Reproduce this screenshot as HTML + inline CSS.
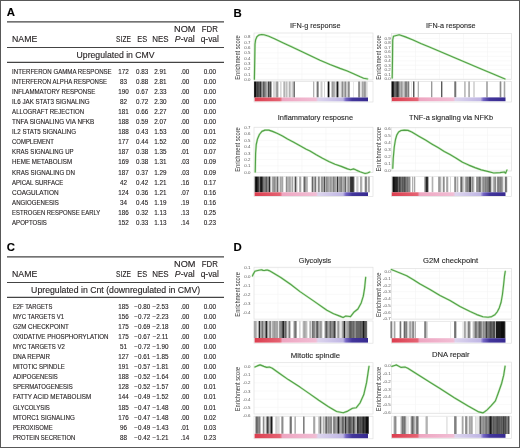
<!DOCTYPE html>
<html><head><meta charset="utf-8"><style>
html,body{margin:0;padding:0;background:#fff;}
body{width:520px;height:448px;overflow:hidden;}
svg{display:block;font-family:"Liberation Sans", sans-serif;filter:blur(0.3px);}
.s{stroke:currentColor;stroke-width:0.12px;}
</style></head><body>
<svg width="520" height="448" viewBox="0 0 520 448">
<rect x="0" y="0" width="520" height="448" fill="#fff"/>
<text class="s" x="6.7" y="16.2" font-size="11.4" text-anchor="start" font-weight="bold" fill="#000" color="#000">A</text>
<line x1="7" x2="224" y1="21.9" y2="21.9" stroke="#444444" stroke-width="1.15"/>
<line x1="7" x2="224" y1="47.5" y2="47.5" stroke="#444444" stroke-width="1.15"/>
<line x1="7" x2="224" y1="62.4" y2="62.4" stroke="#444444" stroke-width="1.15"/>
<text class="s" x="12" y="42.15" font-size="8.4" text-anchor="start" font-weight="normal" fill="#231f20" color="#231f20" textLength="25.3" lengthAdjust="spacingAndGlyphs">NAME</text>
<text class="s" x="123.5" y="42.15" font-size="8.4" text-anchor="middle" font-weight="normal" fill="#231f20" color="#231f20" textLength="14.8" lengthAdjust="spacingAndGlyphs">SIZE</text>
<text class="s" x="142.2" y="42.15" font-size="8.4" text-anchor="middle" font-weight="normal" fill="#231f20" color="#231f20" textLength="9.9" lengthAdjust="spacingAndGlyphs">ES</text>
<text class="s" x="160.5" y="42.15" font-size="8.4" text-anchor="middle" font-weight="normal" fill="#231f20" color="#231f20" textLength="16.4" lengthAdjust="spacingAndGlyphs">NES</text>
<text class="s" x="184.8" y="32.1" font-size="8.4" text-anchor="middle" font-weight="normal" fill="#231f20" color="#231f20" textLength="21.4" lengthAdjust="spacingAndGlyphs">NOM</text>
<text class="s" x="184.8" y="42.15" font-size="8.4" text-anchor="middle" font-weight="normal" fill="#231f20" color="#231f20" textLength="19.9" lengthAdjust="spacingAndGlyphs"><tspan font-style="italic">P</tspan>-val</text>
<text class="s" x="209.8" y="32.1" font-size="8.4" text-anchor="middle" font-weight="normal" fill="#231f20" color="#231f20" textLength="16" lengthAdjust="spacingAndGlyphs">FDR</text>
<text class="s" x="209.8" y="42.15" font-size="8.4" text-anchor="middle" font-weight="normal" fill="#231f20" color="#231f20" textLength="18.3" lengthAdjust="spacingAndGlyphs">q-val</text>
<text class="s" x="115.6" y="57.9" font-size="8.3" text-anchor="middle" font-weight="normal" fill="#231f20" color="#231f20" textLength="78" lengthAdjust="spacingAndGlyphs">Upregulated in CMV</text>
<text class="s" x="12.1" y="73.9" font-size="6.5" text-anchor="start" font-weight="normal" fill="#231f20" color="#231f20" textLength="99.6" lengthAdjust="spacingAndGlyphs">INTERFERON GAMMA RESPONSE</text>
<text class="s" x="123.5" y="73.9" font-size="6.5" text-anchor="middle" font-weight="normal" fill="#231f20" color="#231f20" textLength="10.51" lengthAdjust="spacingAndGlyphs">172</text>
<text class="s" x="142.2" y="73.9" font-size="6.5" text-anchor="middle" font-weight="normal" fill="#231f20" color="#231f20" textLength="12.26" lengthAdjust="spacingAndGlyphs">0.83</text>
<text class="s" x="160.5" y="73.9" font-size="6.5" text-anchor="middle" font-weight="normal" fill="#231f20" color="#231f20" textLength="12.26" lengthAdjust="spacingAndGlyphs">2.91</text>
<text class="s" x="184.8" y="73.9" font-size="6.5" text-anchor="middle" font-weight="normal" fill="#231f20" color="#231f20" textLength="8.76" lengthAdjust="spacingAndGlyphs">.00</text>
<text class="s" x="209.8" y="73.9" font-size="6.5" text-anchor="middle" font-weight="normal" fill="#231f20" color="#231f20" textLength="12.26" lengthAdjust="spacingAndGlyphs">0.00</text>
<text class="s" x="12.1" y="83.96" font-size="6.5" text-anchor="start" font-weight="normal" fill="#231f20" color="#231f20" textLength="94.9" lengthAdjust="spacingAndGlyphs">INTERFERON ALPHA RESPONSE</text>
<text class="s" x="123.5" y="83.96" font-size="6.5" text-anchor="middle" font-weight="normal" fill="#231f20" color="#231f20" textLength="7.01" lengthAdjust="spacingAndGlyphs">83</text>
<text class="s" x="142.2" y="83.96" font-size="6.5" text-anchor="middle" font-weight="normal" fill="#231f20" color="#231f20" textLength="12.26" lengthAdjust="spacingAndGlyphs">0.88</text>
<text class="s" x="160.5" y="83.96" font-size="6.5" text-anchor="middle" font-weight="normal" fill="#231f20" color="#231f20" textLength="12.26" lengthAdjust="spacingAndGlyphs">2.81</text>
<text class="s" x="184.8" y="83.96" font-size="6.5" text-anchor="middle" font-weight="normal" fill="#231f20" color="#231f20" textLength="8.76" lengthAdjust="spacingAndGlyphs">.00</text>
<text class="s" x="209.8" y="83.96" font-size="6.5" text-anchor="middle" font-weight="normal" fill="#231f20" color="#231f20" textLength="12.26" lengthAdjust="spacingAndGlyphs">0.00</text>
<text class="s" x="12.1" y="94.02" font-size="6.5" text-anchor="start" font-weight="normal" fill="#231f20" color="#231f20" textLength="83.3" lengthAdjust="spacingAndGlyphs">INFLAMMATORY RESPONSE</text>
<text class="s" x="123.5" y="94.02" font-size="6.5" text-anchor="middle" font-weight="normal" fill="#231f20" color="#231f20" textLength="10.51" lengthAdjust="spacingAndGlyphs">190</text>
<text class="s" x="142.2" y="94.02" font-size="6.5" text-anchor="middle" font-weight="normal" fill="#231f20" color="#231f20" textLength="12.26" lengthAdjust="spacingAndGlyphs">0.67</text>
<text class="s" x="160.5" y="94.02" font-size="6.5" text-anchor="middle" font-weight="normal" fill="#231f20" color="#231f20" textLength="12.26" lengthAdjust="spacingAndGlyphs">2.33</text>
<text class="s" x="184.8" y="94.02" font-size="6.5" text-anchor="middle" font-weight="normal" fill="#231f20" color="#231f20" textLength="8.76" lengthAdjust="spacingAndGlyphs">.00</text>
<text class="s" x="209.8" y="94.02" font-size="6.5" text-anchor="middle" font-weight="normal" fill="#231f20" color="#231f20" textLength="12.26" lengthAdjust="spacingAndGlyphs">0.00</text>
<text class="s" x="12.1" y="104.08" font-size="6.5" text-anchor="start" font-weight="normal" fill="#231f20" color="#231f20" textLength="77.5" lengthAdjust="spacingAndGlyphs">IL6 JAK STAT3 SIGNALING</text>
<text class="s" x="123.5" y="104.08" font-size="6.5" text-anchor="middle" font-weight="normal" fill="#231f20" color="#231f20" textLength="7.01" lengthAdjust="spacingAndGlyphs">82</text>
<text class="s" x="142.2" y="104.08" font-size="6.5" text-anchor="middle" font-weight="normal" fill="#231f20" color="#231f20" textLength="12.26" lengthAdjust="spacingAndGlyphs">0.72</text>
<text class="s" x="160.5" y="104.08" font-size="6.5" text-anchor="middle" font-weight="normal" fill="#231f20" color="#231f20" textLength="12.26" lengthAdjust="spacingAndGlyphs">2.30</text>
<text class="s" x="184.8" y="104.08" font-size="6.5" text-anchor="middle" font-weight="normal" fill="#231f20" color="#231f20" textLength="8.76" lengthAdjust="spacingAndGlyphs">.00</text>
<text class="s" x="209.8" y="104.08" font-size="6.5" text-anchor="middle" font-weight="normal" fill="#231f20" color="#231f20" textLength="12.26" lengthAdjust="spacingAndGlyphs">0.00</text>
<text class="s" x="12.1" y="114.14" font-size="6.5" text-anchor="start" font-weight="normal" fill="#231f20" color="#231f20" textLength="72.0" lengthAdjust="spacingAndGlyphs">ALLOGRAFT REJECTION</text>
<text class="s" x="123.5" y="114.14" font-size="6.5" text-anchor="middle" font-weight="normal" fill="#231f20" color="#231f20" textLength="10.51" lengthAdjust="spacingAndGlyphs">181</text>
<text class="s" x="142.2" y="114.14" font-size="6.5" text-anchor="middle" font-weight="normal" fill="#231f20" color="#231f20" textLength="12.26" lengthAdjust="spacingAndGlyphs">0.66</text>
<text class="s" x="160.5" y="114.14" font-size="6.5" text-anchor="middle" font-weight="normal" fill="#231f20" color="#231f20" textLength="12.26" lengthAdjust="spacingAndGlyphs">2.27</text>
<text class="s" x="184.8" y="114.14" font-size="6.5" text-anchor="middle" font-weight="normal" fill="#231f20" color="#231f20" textLength="8.76" lengthAdjust="spacingAndGlyphs">.00</text>
<text class="s" x="209.8" y="114.14" font-size="6.5" text-anchor="middle" font-weight="normal" fill="#231f20" color="#231f20" textLength="12.26" lengthAdjust="spacingAndGlyphs">0.00</text>
<text class="s" x="12.1" y="124.2" font-size="6.5" text-anchor="start" font-weight="normal" fill="#231f20" color="#231f20" textLength="82.2" lengthAdjust="spacingAndGlyphs">TNFA SIGNALING VIA NFKB</text>
<text class="s" x="123.5" y="124.2" font-size="6.5" text-anchor="middle" font-weight="normal" fill="#231f20" color="#231f20" textLength="10.51" lengthAdjust="spacingAndGlyphs">188</text>
<text class="s" x="142.2" y="124.2" font-size="6.5" text-anchor="middle" font-weight="normal" fill="#231f20" color="#231f20" textLength="12.26" lengthAdjust="spacingAndGlyphs">0.59</text>
<text class="s" x="160.5" y="124.2" font-size="6.5" text-anchor="middle" font-weight="normal" fill="#231f20" color="#231f20" textLength="12.26" lengthAdjust="spacingAndGlyphs">2.07</text>
<text class="s" x="184.8" y="124.2" font-size="6.5" text-anchor="middle" font-weight="normal" fill="#231f20" color="#231f20" textLength="8.76" lengthAdjust="spacingAndGlyphs">.00</text>
<text class="s" x="209.8" y="124.2" font-size="6.5" text-anchor="middle" font-weight="normal" fill="#231f20" color="#231f20" textLength="12.26" lengthAdjust="spacingAndGlyphs">0.00</text>
<text class="s" x="12.1" y="134.26" font-size="6.5" text-anchor="start" font-weight="normal" fill="#231f20" color="#231f20" textLength="64.0" lengthAdjust="spacingAndGlyphs">IL2 STAT5 SIGNALING</text>
<text class="s" x="123.5" y="134.26" font-size="6.5" text-anchor="middle" font-weight="normal" fill="#231f20" color="#231f20" textLength="10.51" lengthAdjust="spacingAndGlyphs">188</text>
<text class="s" x="142.2" y="134.26" font-size="6.5" text-anchor="middle" font-weight="normal" fill="#231f20" color="#231f20" textLength="12.26" lengthAdjust="spacingAndGlyphs">0.43</text>
<text class="s" x="160.5" y="134.26" font-size="6.5" text-anchor="middle" font-weight="normal" fill="#231f20" color="#231f20" textLength="12.26" lengthAdjust="spacingAndGlyphs">1.53</text>
<text class="s" x="184.8" y="134.26" font-size="6.5" text-anchor="middle" font-weight="normal" fill="#231f20" color="#231f20" textLength="8.76" lengthAdjust="spacingAndGlyphs">.00</text>
<text class="s" x="209.8" y="134.26" font-size="6.5" text-anchor="middle" font-weight="normal" fill="#231f20" color="#231f20" textLength="12.26" lengthAdjust="spacingAndGlyphs">0.01</text>
<text class="s" x="12.1" y="144.32" font-size="6.5" text-anchor="start" font-weight="normal" fill="#231f20" color="#231f20" textLength="41.8" lengthAdjust="spacingAndGlyphs">COMPLEMENT</text>
<text class="s" x="123.5" y="144.32" font-size="6.5" text-anchor="middle" font-weight="normal" fill="#231f20" color="#231f20" textLength="10.51" lengthAdjust="spacingAndGlyphs">177</text>
<text class="s" x="142.2" y="144.32" font-size="6.5" text-anchor="middle" font-weight="normal" fill="#231f20" color="#231f20" textLength="12.26" lengthAdjust="spacingAndGlyphs">0.44</text>
<text class="s" x="160.5" y="144.32" font-size="6.5" text-anchor="middle" font-weight="normal" fill="#231f20" color="#231f20" textLength="12.26" lengthAdjust="spacingAndGlyphs">1.52</text>
<text class="s" x="184.8" y="144.32" font-size="6.5" text-anchor="middle" font-weight="normal" fill="#231f20" color="#231f20" textLength="8.76" lengthAdjust="spacingAndGlyphs">.00</text>
<text class="s" x="209.8" y="144.32" font-size="6.5" text-anchor="middle" font-weight="normal" fill="#231f20" color="#231f20" textLength="12.26" lengthAdjust="spacingAndGlyphs">0.02</text>
<text class="s" x="12.1" y="154.38" font-size="6.5" text-anchor="start" font-weight="normal" fill="#231f20" color="#231f20" textLength="61.5" lengthAdjust="spacingAndGlyphs">KRAS SIGNALING UP</text>
<text class="s" x="123.5" y="154.38" font-size="6.5" text-anchor="middle" font-weight="normal" fill="#231f20" color="#231f20" textLength="10.51" lengthAdjust="spacingAndGlyphs">187</text>
<text class="s" x="142.2" y="154.38" font-size="6.5" text-anchor="middle" font-weight="normal" fill="#231f20" color="#231f20" textLength="12.26" lengthAdjust="spacingAndGlyphs">0.38</text>
<text class="s" x="160.5" y="154.38" font-size="6.5" text-anchor="middle" font-weight="normal" fill="#231f20" color="#231f20" textLength="12.26" lengthAdjust="spacingAndGlyphs">1.35</text>
<text class="s" x="184.8" y="154.38" font-size="6.5" text-anchor="middle" font-weight="normal" fill="#231f20" color="#231f20" textLength="8.76" lengthAdjust="spacingAndGlyphs">.01</text>
<text class="s" x="209.8" y="154.38" font-size="6.5" text-anchor="middle" font-weight="normal" fill="#231f20" color="#231f20" textLength="12.26" lengthAdjust="spacingAndGlyphs">0.07</text>
<text class="s" x="12.1" y="164.44" font-size="6.5" text-anchor="start" font-weight="normal" fill="#231f20" color="#231f20" textLength="60.0" lengthAdjust="spacingAndGlyphs">HEME METABOLISM</text>
<text class="s" x="123.5" y="164.44" font-size="6.5" text-anchor="middle" font-weight="normal" fill="#231f20" color="#231f20" textLength="10.51" lengthAdjust="spacingAndGlyphs">169</text>
<text class="s" x="142.2" y="164.44" font-size="6.5" text-anchor="middle" font-weight="normal" fill="#231f20" color="#231f20" textLength="12.26" lengthAdjust="spacingAndGlyphs">0.38</text>
<text class="s" x="160.5" y="164.44" font-size="6.5" text-anchor="middle" font-weight="normal" fill="#231f20" color="#231f20" textLength="12.26" lengthAdjust="spacingAndGlyphs">1.31</text>
<text class="s" x="184.8" y="164.44" font-size="6.5" text-anchor="middle" font-weight="normal" fill="#231f20" color="#231f20" textLength="8.76" lengthAdjust="spacingAndGlyphs">.03</text>
<text class="s" x="209.8" y="164.44" font-size="6.5" text-anchor="middle" font-weight="normal" fill="#231f20" color="#231f20" textLength="12.26" lengthAdjust="spacingAndGlyphs">0.09</text>
<text class="s" x="12.1" y="174.5" font-size="6.5" text-anchor="start" font-weight="normal" fill="#231f20" color="#231f20" textLength="62.8" lengthAdjust="spacingAndGlyphs">KRAS SIGNALING DN</text>
<text class="s" x="123.5" y="174.5" font-size="6.5" text-anchor="middle" font-weight="normal" fill="#231f20" color="#231f20" textLength="10.51" lengthAdjust="spacingAndGlyphs">187</text>
<text class="s" x="142.2" y="174.5" font-size="6.5" text-anchor="middle" font-weight="normal" fill="#231f20" color="#231f20" textLength="12.26" lengthAdjust="spacingAndGlyphs">0.37</text>
<text class="s" x="160.5" y="174.5" font-size="6.5" text-anchor="middle" font-weight="normal" fill="#231f20" color="#231f20" textLength="12.26" lengthAdjust="spacingAndGlyphs">1.29</text>
<text class="s" x="184.8" y="174.5" font-size="6.5" text-anchor="middle" font-weight="normal" fill="#231f20" color="#231f20" textLength="8.76" lengthAdjust="spacingAndGlyphs">.03</text>
<text class="s" x="209.8" y="174.5" font-size="6.5" text-anchor="middle" font-weight="normal" fill="#231f20" color="#231f20" textLength="12.26" lengthAdjust="spacingAndGlyphs">0.09</text>
<text class="s" x="12.1" y="184.56" font-size="6.5" text-anchor="start" font-weight="normal" fill="#231f20" color="#231f20" textLength="51.2" lengthAdjust="spacingAndGlyphs">APICAL SURFACE</text>
<text class="s" x="123.5" y="184.56" font-size="6.5" text-anchor="middle" font-weight="normal" fill="#231f20" color="#231f20" textLength="7.01" lengthAdjust="spacingAndGlyphs">42</text>
<text class="s" x="142.2" y="184.56" font-size="6.5" text-anchor="middle" font-weight="normal" fill="#231f20" color="#231f20" textLength="12.26" lengthAdjust="spacingAndGlyphs">0.42</text>
<text class="s" x="160.5" y="184.56" font-size="6.5" text-anchor="middle" font-weight="normal" fill="#231f20" color="#231f20" textLength="12.26" lengthAdjust="spacingAndGlyphs">1.21</text>
<text class="s" x="184.8" y="184.56" font-size="6.5" text-anchor="middle" font-weight="normal" fill="#231f20" color="#231f20" textLength="8.76" lengthAdjust="spacingAndGlyphs">.16</text>
<text class="s" x="209.8" y="184.56" font-size="6.5" text-anchor="middle" font-weight="normal" fill="#231f20" color="#231f20" textLength="12.26" lengthAdjust="spacingAndGlyphs">0.17</text>
<text class="s" x="12.1" y="194.62" font-size="6.5" text-anchor="start" font-weight="normal" fill="#231f20" color="#231f20" textLength="46.5" lengthAdjust="spacingAndGlyphs">COAGULATION</text>
<text class="s" x="123.5" y="194.62" font-size="6.5" text-anchor="middle" font-weight="normal" fill="#231f20" color="#231f20" textLength="10.51" lengthAdjust="spacingAndGlyphs">124</text>
<text class="s" x="142.2" y="194.62" font-size="6.5" text-anchor="middle" font-weight="normal" fill="#231f20" color="#231f20" textLength="12.26" lengthAdjust="spacingAndGlyphs">0.36</text>
<text class="s" x="160.5" y="194.62" font-size="6.5" text-anchor="middle" font-weight="normal" fill="#231f20" color="#231f20" textLength="12.26" lengthAdjust="spacingAndGlyphs">1.21</text>
<text class="s" x="184.8" y="194.62" font-size="6.5" text-anchor="middle" font-weight="normal" fill="#231f20" color="#231f20" textLength="8.76" lengthAdjust="spacingAndGlyphs">.07</text>
<text class="s" x="209.8" y="194.62" font-size="6.5" text-anchor="middle" font-weight="normal" fill="#231f20" color="#231f20" textLength="12.26" lengthAdjust="spacingAndGlyphs">0.16</text>
<text class="s" x="12.1" y="204.68" font-size="6.5" text-anchor="start" font-weight="normal" fill="#231f20" color="#231f20" textLength="46.8" lengthAdjust="spacingAndGlyphs">ANGIOGENESIS</text>
<text class="s" x="123.5" y="204.68" font-size="6.5" text-anchor="middle" font-weight="normal" fill="#231f20" color="#231f20" textLength="7.01" lengthAdjust="spacingAndGlyphs">34</text>
<text class="s" x="142.2" y="204.68" font-size="6.5" text-anchor="middle" font-weight="normal" fill="#231f20" color="#231f20" textLength="12.26" lengthAdjust="spacingAndGlyphs">0.45</text>
<text class="s" x="160.5" y="204.68" font-size="6.5" text-anchor="middle" font-weight="normal" fill="#231f20" color="#231f20" textLength="12.26" lengthAdjust="spacingAndGlyphs">1.19</text>
<text class="s" x="184.8" y="204.68" font-size="6.5" text-anchor="middle" font-weight="normal" fill="#231f20" color="#231f20" textLength="8.76" lengthAdjust="spacingAndGlyphs">.19</text>
<text class="s" x="209.8" y="204.68" font-size="6.5" text-anchor="middle" font-weight="normal" fill="#231f20" color="#231f20" textLength="12.26" lengthAdjust="spacingAndGlyphs">0.16</text>
<text class="s" x="12.1" y="214.74" font-size="6.5" text-anchor="start" font-weight="normal" fill="#231f20" color="#231f20" textLength="88.1" lengthAdjust="spacingAndGlyphs">ESTROGEN RESPONSE EARLY</text>
<text class="s" x="123.5" y="214.74" font-size="6.5" text-anchor="middle" font-weight="normal" fill="#231f20" color="#231f20" textLength="10.51" lengthAdjust="spacingAndGlyphs">186</text>
<text class="s" x="142.2" y="214.74" font-size="6.5" text-anchor="middle" font-weight="normal" fill="#231f20" color="#231f20" textLength="12.26" lengthAdjust="spacingAndGlyphs">0.32</text>
<text class="s" x="160.5" y="214.74" font-size="6.5" text-anchor="middle" font-weight="normal" fill="#231f20" color="#231f20" textLength="12.26" lengthAdjust="spacingAndGlyphs">1.13</text>
<text class="s" x="184.8" y="214.74" font-size="6.5" text-anchor="middle" font-weight="normal" fill="#231f20" color="#231f20" textLength="8.76" lengthAdjust="spacingAndGlyphs">.13</text>
<text class="s" x="209.8" y="214.74" font-size="6.5" text-anchor="middle" font-weight="normal" fill="#231f20" color="#231f20" textLength="12.26" lengthAdjust="spacingAndGlyphs">0.25</text>
<text class="s" x="12.1" y="224.8" font-size="6.5" text-anchor="start" font-weight="normal" fill="#231f20" color="#231f20" textLength="34.8" lengthAdjust="spacingAndGlyphs">APOPTOSIS</text>
<text class="s" x="123.5" y="224.8" font-size="6.5" text-anchor="middle" font-weight="normal" fill="#231f20" color="#231f20" textLength="10.51" lengthAdjust="spacingAndGlyphs">152</text>
<text class="s" x="142.2" y="224.8" font-size="6.5" text-anchor="middle" font-weight="normal" fill="#231f20" color="#231f20" textLength="12.26" lengthAdjust="spacingAndGlyphs">0.33</text>
<text class="s" x="160.5" y="224.8" font-size="6.5" text-anchor="middle" font-weight="normal" fill="#231f20" color="#231f20" textLength="12.26" lengthAdjust="spacingAndGlyphs">1.13</text>
<text class="s" x="184.8" y="224.8" font-size="6.5" text-anchor="middle" font-weight="normal" fill="#231f20" color="#231f20" textLength="8.76" lengthAdjust="spacingAndGlyphs">.14</text>
<text class="s" x="209.8" y="224.8" font-size="6.5" text-anchor="middle" font-weight="normal" fill="#231f20" color="#231f20" textLength="12.26" lengthAdjust="spacingAndGlyphs">0.23</text>
<text class="s" x="6.7" y="250.7" font-size="11.4" text-anchor="start" font-weight="bold" fill="#000" color="#000">C</text>
<line x1="7" x2="224" y1="256.9" y2="256.9" stroke="#444444" stroke-width="1.15"/>
<line x1="7" x2="224" y1="282.5" y2="282.5" stroke="#444444" stroke-width="1.15"/>
<line x1="7" x2="224" y1="297.4" y2="297.4" stroke="#444444" stroke-width="1.15"/>
<text class="s" x="12" y="277.15" font-size="8.4" text-anchor="start" font-weight="normal" fill="#231f20" color="#231f20" textLength="25.3" lengthAdjust="spacingAndGlyphs">NAME</text>
<text class="s" x="123.5" y="277.15" font-size="8.4" text-anchor="middle" font-weight="normal" fill="#231f20" color="#231f20" textLength="14.8" lengthAdjust="spacingAndGlyphs">SIZE</text>
<text class="s" x="142.2" y="277.15" font-size="8.4" text-anchor="middle" font-weight="normal" fill="#231f20" color="#231f20" textLength="9.9" lengthAdjust="spacingAndGlyphs">ES</text>
<text class="s" x="160.5" y="277.15" font-size="8.4" text-anchor="middle" font-weight="normal" fill="#231f20" color="#231f20" textLength="16.4" lengthAdjust="spacingAndGlyphs">NES</text>
<text class="s" x="184.8" y="267.1" font-size="8.4" text-anchor="middle" font-weight="normal" fill="#231f20" color="#231f20" textLength="21.4" lengthAdjust="spacingAndGlyphs">NOM</text>
<text class="s" x="184.8" y="277.15" font-size="8.4" text-anchor="middle" font-weight="normal" fill="#231f20" color="#231f20" textLength="19.9" lengthAdjust="spacingAndGlyphs"><tspan font-style="italic">P</tspan>-val</text>
<text class="s" x="209.8" y="267.1" font-size="8.4" text-anchor="middle" font-weight="normal" fill="#231f20" color="#231f20" textLength="16" lengthAdjust="spacingAndGlyphs">FDR</text>
<text class="s" x="209.8" y="277.15" font-size="8.4" text-anchor="middle" font-weight="normal" fill="#231f20" color="#231f20" textLength="18.3" lengthAdjust="spacingAndGlyphs">q-val</text>
<text class="s" x="115.6" y="292.9" font-size="8.3" text-anchor="middle" font-weight="normal" fill="#231f20" color="#231f20" textLength="169" lengthAdjust="spacingAndGlyphs">Upregulated in Cnt (downregulated in CMV)</text>
<text class="s" x="12.9" y="308.9" font-size="6.5" text-anchor="start" font-weight="normal" fill="#231f20" color="#231f20" textLength="39.4" lengthAdjust="spacingAndGlyphs">E2F TARGETS</text>
<text class="s" x="123.5" y="308.9" font-size="6.5" text-anchor="middle" font-weight="normal" fill="#231f20" color="#231f20" textLength="10.51" lengthAdjust="spacingAndGlyphs">185</text>
<text class="s" x="142.2" y="308.9" font-size="6.5" text-anchor="middle" font-weight="normal" fill="#231f20" color="#231f20" textLength="15.94" lengthAdjust="spacingAndGlyphs">−0.80</text>
<text class="s" x="160.5" y="308.9" font-size="6.5" text-anchor="middle" font-weight="normal" fill="#231f20" color="#231f20" textLength="15.94" lengthAdjust="spacingAndGlyphs">−2.53</text>
<text class="s" x="184.8" y="308.9" font-size="6.5" text-anchor="middle" font-weight="normal" fill="#231f20" color="#231f20" textLength="8.76" lengthAdjust="spacingAndGlyphs">.00</text>
<text class="s" x="209.8" y="308.9" font-size="6.5" text-anchor="middle" font-weight="normal" fill="#231f20" color="#231f20" textLength="12.26" lengthAdjust="spacingAndGlyphs">0.00</text>
<text class="s" x="12.9" y="318.96" font-size="6.5" text-anchor="start" font-weight="normal" fill="#231f20" color="#231f20" textLength="51.1" lengthAdjust="spacingAndGlyphs">MYC TARGETS V1</text>
<text class="s" x="123.5" y="318.96" font-size="6.5" text-anchor="middle" font-weight="normal" fill="#231f20" color="#231f20" textLength="10.51" lengthAdjust="spacingAndGlyphs">156</text>
<text class="s" x="142.2" y="318.96" font-size="6.5" text-anchor="middle" font-weight="normal" fill="#231f20" color="#231f20" textLength="15.94" lengthAdjust="spacingAndGlyphs">−0.72</text>
<text class="s" x="160.5" y="318.96" font-size="6.5" text-anchor="middle" font-weight="normal" fill="#231f20" color="#231f20" textLength="15.94" lengthAdjust="spacingAndGlyphs">−2.23</text>
<text class="s" x="184.8" y="318.96" font-size="6.5" text-anchor="middle" font-weight="normal" fill="#231f20" color="#231f20" textLength="8.76" lengthAdjust="spacingAndGlyphs">.00</text>
<text class="s" x="209.8" y="318.96" font-size="6.5" text-anchor="middle" font-weight="normal" fill="#231f20" color="#231f20" textLength="12.26" lengthAdjust="spacingAndGlyphs">0.00</text>
<text class="s" x="12.9" y="329.02" font-size="6.5" text-anchor="start" font-weight="normal" fill="#231f20" color="#231f20" textLength="55.8" lengthAdjust="spacingAndGlyphs">G2M CHECKPOINT</text>
<text class="s" x="123.5" y="329.02" font-size="6.5" text-anchor="middle" font-weight="normal" fill="#231f20" color="#231f20" textLength="10.51" lengthAdjust="spacingAndGlyphs">175</text>
<text class="s" x="142.2" y="329.02" font-size="6.5" text-anchor="middle" font-weight="normal" fill="#231f20" color="#231f20" textLength="15.94" lengthAdjust="spacingAndGlyphs">−0.69</text>
<text class="s" x="160.5" y="329.02" font-size="6.5" text-anchor="middle" font-weight="normal" fill="#231f20" color="#231f20" textLength="15.94" lengthAdjust="spacingAndGlyphs">−2.18</text>
<text class="s" x="184.8" y="329.02" font-size="6.5" text-anchor="middle" font-weight="normal" fill="#231f20" color="#231f20" textLength="8.76" lengthAdjust="spacingAndGlyphs">.00</text>
<text class="s" x="209.8" y="329.02" font-size="6.5" text-anchor="middle" font-weight="normal" fill="#231f20" color="#231f20" textLength="12.26" lengthAdjust="spacingAndGlyphs">0.00</text>
<text class="s" x="12.9" y="339.08" font-size="6.5" text-anchor="start" font-weight="normal" fill="#231f20" color="#231f20" textLength="95.65" lengthAdjust="spacingAndGlyphs">OXIDATIVE PHOSPHORYLATION</text>
<text class="s" x="123.5" y="339.08" font-size="6.5" text-anchor="middle" font-weight="normal" fill="#231f20" color="#231f20" textLength="10.51" lengthAdjust="spacingAndGlyphs">175</text>
<text class="s" x="142.2" y="339.08" font-size="6.5" text-anchor="middle" font-weight="normal" fill="#231f20" color="#231f20" textLength="15.94" lengthAdjust="spacingAndGlyphs">−0.67</text>
<text class="s" x="160.5" y="339.08" font-size="6.5" text-anchor="middle" font-weight="normal" fill="#231f20" color="#231f20" textLength="15.47" lengthAdjust="spacingAndGlyphs">−2.11</text>
<text class="s" x="184.8" y="339.08" font-size="6.5" text-anchor="middle" font-weight="normal" fill="#231f20" color="#231f20" textLength="8.76" lengthAdjust="spacingAndGlyphs">.00</text>
<text class="s" x="209.8" y="339.08" font-size="6.5" text-anchor="middle" font-weight="normal" fill="#231f20" color="#231f20" textLength="12.26" lengthAdjust="spacingAndGlyphs">0.00</text>
<text class="s" x="12.9" y="349.14" font-size="6.5" text-anchor="start" font-weight="normal" fill="#231f20" color="#231f20" textLength="51.9" lengthAdjust="spacingAndGlyphs">MYC TARGETS V2</text>
<text class="s" x="123.5" y="349.14" font-size="6.5" text-anchor="middle" font-weight="normal" fill="#231f20" color="#231f20" textLength="7.01" lengthAdjust="spacingAndGlyphs">51</text>
<text class="s" x="142.2" y="349.14" font-size="6.5" text-anchor="middle" font-weight="normal" fill="#231f20" color="#231f20" textLength="15.94" lengthAdjust="spacingAndGlyphs">−0.72</text>
<text class="s" x="160.5" y="349.14" font-size="6.5" text-anchor="middle" font-weight="normal" fill="#231f20" color="#231f20" textLength="15.94" lengthAdjust="spacingAndGlyphs">−1.90</text>
<text class="s" x="184.8" y="349.14" font-size="6.5" text-anchor="middle" font-weight="normal" fill="#231f20" color="#231f20" textLength="8.76" lengthAdjust="spacingAndGlyphs">.00</text>
<text class="s" x="209.8" y="349.14" font-size="6.5" text-anchor="middle" font-weight="normal" fill="#231f20" color="#231f20" textLength="12.26" lengthAdjust="spacingAndGlyphs">0.00</text>
<text class="s" x="12.9" y="359.2" font-size="6.5" text-anchor="start" font-weight="normal" fill="#231f20" color="#231f20" textLength="37.1" lengthAdjust="spacingAndGlyphs">DNA REPAIR</text>
<text class="s" x="123.5" y="359.2" font-size="6.5" text-anchor="middle" font-weight="normal" fill="#231f20" color="#231f20" textLength="10.51" lengthAdjust="spacingAndGlyphs">127</text>
<text class="s" x="142.2" y="359.2" font-size="6.5" text-anchor="middle" font-weight="normal" fill="#231f20" color="#231f20" textLength="15.94" lengthAdjust="spacingAndGlyphs">−0.61</text>
<text class="s" x="160.5" y="359.2" font-size="6.5" text-anchor="middle" font-weight="normal" fill="#231f20" color="#231f20" textLength="15.94" lengthAdjust="spacingAndGlyphs">−1.85</text>
<text class="s" x="184.8" y="359.2" font-size="6.5" text-anchor="middle" font-weight="normal" fill="#231f20" color="#231f20" textLength="8.76" lengthAdjust="spacingAndGlyphs">.00</text>
<text class="s" x="209.8" y="359.2" font-size="6.5" text-anchor="middle" font-weight="normal" fill="#231f20" color="#231f20" textLength="12.26" lengthAdjust="spacingAndGlyphs">0.00</text>
<text class="s" x="12.9" y="369.26" font-size="6.5" text-anchor="start" font-weight="normal" fill="#231f20" color="#231f20" textLength="51.9" lengthAdjust="spacingAndGlyphs">MITOTIC SPINDLE</text>
<text class="s" x="123.5" y="369.26" font-size="6.5" text-anchor="middle" font-weight="normal" fill="#231f20" color="#231f20" textLength="10.51" lengthAdjust="spacingAndGlyphs">191</text>
<text class="s" x="142.2" y="369.26" font-size="6.5" text-anchor="middle" font-weight="normal" fill="#231f20" color="#231f20" textLength="15.94" lengthAdjust="spacingAndGlyphs">−0.57</text>
<text class="s" x="160.5" y="369.26" font-size="6.5" text-anchor="middle" font-weight="normal" fill="#231f20" color="#231f20" textLength="15.94" lengthAdjust="spacingAndGlyphs">−1.81</text>
<text class="s" x="184.8" y="369.26" font-size="6.5" text-anchor="middle" font-weight="normal" fill="#231f20" color="#231f20" textLength="8.76" lengthAdjust="spacingAndGlyphs">.00</text>
<text class="s" x="209.8" y="369.26" font-size="6.5" text-anchor="middle" font-weight="normal" fill="#231f20" color="#231f20" textLength="12.26" lengthAdjust="spacingAndGlyphs">0.00</text>
<text class="s" x="12.9" y="379.32" font-size="6.5" text-anchor="start" font-weight="normal" fill="#231f20" color="#231f20" textLength="44.9" lengthAdjust="spacingAndGlyphs">ADIPOGENESIS</text>
<text class="s" x="123.5" y="379.32" font-size="6.5" text-anchor="middle" font-weight="normal" fill="#231f20" color="#231f20" textLength="10.51" lengthAdjust="spacingAndGlyphs">188</text>
<text class="s" x="142.2" y="379.32" font-size="6.5" text-anchor="middle" font-weight="normal" fill="#231f20" color="#231f20" textLength="15.94" lengthAdjust="spacingAndGlyphs">−0.52</text>
<text class="s" x="160.5" y="379.32" font-size="6.5" text-anchor="middle" font-weight="normal" fill="#231f20" color="#231f20" textLength="15.94" lengthAdjust="spacingAndGlyphs">−1.64</text>
<text class="s" x="184.8" y="379.32" font-size="6.5" text-anchor="middle" font-weight="normal" fill="#231f20" color="#231f20" textLength="8.76" lengthAdjust="spacingAndGlyphs">.00</text>
<text class="s" x="209.8" y="379.32" font-size="6.5" text-anchor="middle" font-weight="normal" fill="#231f20" color="#231f20" textLength="12.26" lengthAdjust="spacingAndGlyphs">0.00</text>
<text class="s" x="12.9" y="389.38" font-size="6.5" text-anchor="start" font-weight="normal" fill="#231f20" color="#231f20" textLength="59.8" lengthAdjust="spacingAndGlyphs">SPERMATOGENESIS</text>
<text class="s" x="123.5" y="389.38" font-size="6.5" text-anchor="middle" font-weight="normal" fill="#231f20" color="#231f20" textLength="10.51" lengthAdjust="spacingAndGlyphs">128</text>
<text class="s" x="142.2" y="389.38" font-size="6.5" text-anchor="middle" font-weight="normal" fill="#231f20" color="#231f20" textLength="15.94" lengthAdjust="spacingAndGlyphs">−0.52</text>
<text class="s" x="160.5" y="389.38" font-size="6.5" text-anchor="middle" font-weight="normal" fill="#231f20" color="#231f20" textLength="15.94" lengthAdjust="spacingAndGlyphs">−1.57</text>
<text class="s" x="184.8" y="389.38" font-size="6.5" text-anchor="middle" font-weight="normal" fill="#231f20" color="#231f20" textLength="8.76" lengthAdjust="spacingAndGlyphs">.00</text>
<text class="s" x="209.8" y="389.38" font-size="6.5" text-anchor="middle" font-weight="normal" fill="#231f20" color="#231f20" textLength="12.26" lengthAdjust="spacingAndGlyphs">0.01</text>
<text class="s" x="12.9" y="399.44" font-size="6.5" text-anchor="start" font-weight="normal" fill="#231f20" color="#231f20" textLength="78.3" lengthAdjust="spacingAndGlyphs">FATTY ACID METABOLISM</text>
<text class="s" x="123.5" y="399.44" font-size="6.5" text-anchor="middle" font-weight="normal" fill="#231f20" color="#231f20" textLength="10.51" lengthAdjust="spacingAndGlyphs">144</text>
<text class="s" x="142.2" y="399.44" font-size="6.5" text-anchor="middle" font-weight="normal" fill="#231f20" color="#231f20" textLength="15.94" lengthAdjust="spacingAndGlyphs">−0.49</text>
<text class="s" x="160.5" y="399.44" font-size="6.5" text-anchor="middle" font-weight="normal" fill="#231f20" color="#231f20" textLength="15.94" lengthAdjust="spacingAndGlyphs">−1.52</text>
<text class="s" x="184.8" y="399.44" font-size="6.5" text-anchor="middle" font-weight="normal" fill="#231f20" color="#231f20" textLength="8.76" lengthAdjust="spacingAndGlyphs">.00</text>
<text class="s" x="209.8" y="399.44" font-size="6.5" text-anchor="middle" font-weight="normal" fill="#231f20" color="#231f20" textLength="12.26" lengthAdjust="spacingAndGlyphs">0.01</text>
<text class="s" x="12.9" y="409.5" font-size="6.5" text-anchor="start" font-weight="normal" fill="#231f20" color="#231f20" textLength="36.9" lengthAdjust="spacingAndGlyphs">GLYCOLYSIS</text>
<text class="s" x="123.5" y="409.5" font-size="6.5" text-anchor="middle" font-weight="normal" fill="#231f20" color="#231f20" textLength="10.51" lengthAdjust="spacingAndGlyphs">185</text>
<text class="s" x="142.2" y="409.5" font-size="6.5" text-anchor="middle" font-weight="normal" fill="#231f20" color="#231f20" textLength="15.94" lengthAdjust="spacingAndGlyphs">−0.47</text>
<text class="s" x="160.5" y="409.5" font-size="6.5" text-anchor="middle" font-weight="normal" fill="#231f20" color="#231f20" textLength="15.94" lengthAdjust="spacingAndGlyphs">−1.48</text>
<text class="s" x="184.8" y="409.5" font-size="6.5" text-anchor="middle" font-weight="normal" fill="#231f20" color="#231f20" textLength="8.76" lengthAdjust="spacingAndGlyphs">.00</text>
<text class="s" x="209.8" y="409.5" font-size="6.5" text-anchor="middle" font-weight="normal" fill="#231f20" color="#231f20" textLength="12.26" lengthAdjust="spacingAndGlyphs">0.01</text>
<text class="s" x="12.9" y="419.56" font-size="6.5" text-anchor="start" font-weight="normal" fill="#231f20" color="#231f20" textLength="61.9" lengthAdjust="spacingAndGlyphs">MTORC1 SIGNALING</text>
<text class="s" x="123.5" y="419.56" font-size="6.5" text-anchor="middle" font-weight="normal" fill="#231f20" color="#231f20" textLength="10.51" lengthAdjust="spacingAndGlyphs">176</text>
<text class="s" x="142.2" y="419.56" font-size="6.5" text-anchor="middle" font-weight="normal" fill="#231f20" color="#231f20" textLength="15.94" lengthAdjust="spacingAndGlyphs">−0.47</text>
<text class="s" x="160.5" y="419.56" font-size="6.5" text-anchor="middle" font-weight="normal" fill="#231f20" color="#231f20" textLength="15.94" lengthAdjust="spacingAndGlyphs">−1.48</text>
<text class="s" x="184.8" y="419.56" font-size="6.5" text-anchor="middle" font-weight="normal" fill="#231f20" color="#231f20" textLength="8.76" lengthAdjust="spacingAndGlyphs">.00</text>
<text class="s" x="209.8" y="419.56" font-size="6.5" text-anchor="middle" font-weight="normal" fill="#231f20" color="#231f20" textLength="12.26" lengthAdjust="spacingAndGlyphs">0.02</text>
<text class="s" x="12.9" y="429.62" font-size="6.5" text-anchor="start" font-weight="normal" fill="#231f20" color="#231f20" textLength="39.7" lengthAdjust="spacingAndGlyphs">PEROXISOME</text>
<text class="s" x="123.5" y="429.62" font-size="6.5" text-anchor="middle" font-weight="normal" fill="#231f20" color="#231f20" textLength="7.01" lengthAdjust="spacingAndGlyphs">96</text>
<text class="s" x="142.2" y="429.62" font-size="6.5" text-anchor="middle" font-weight="normal" fill="#231f20" color="#231f20" textLength="15.94" lengthAdjust="spacingAndGlyphs">−0.49</text>
<text class="s" x="160.5" y="429.62" font-size="6.5" text-anchor="middle" font-weight="normal" fill="#231f20" color="#231f20" textLength="15.94" lengthAdjust="spacingAndGlyphs">−1.43</text>
<text class="s" x="184.8" y="429.62" font-size="6.5" text-anchor="middle" font-weight="normal" fill="#231f20" color="#231f20" textLength="8.76" lengthAdjust="spacingAndGlyphs">.01</text>
<text class="s" x="209.8" y="429.62" font-size="6.5" text-anchor="middle" font-weight="normal" fill="#231f20" color="#231f20" textLength="12.26" lengthAdjust="spacingAndGlyphs">0.03</text>
<text class="s" x="12.9" y="439.68" font-size="6.5" text-anchor="start" font-weight="normal" fill="#231f20" color="#231f20" textLength="62.5" lengthAdjust="spacingAndGlyphs">PROTEIN SECRETION</text>
<text class="s" x="123.5" y="439.68" font-size="6.5" text-anchor="middle" font-weight="normal" fill="#231f20" color="#231f20" textLength="7.01" lengthAdjust="spacingAndGlyphs">88</text>
<text class="s" x="142.2" y="439.68" font-size="6.5" text-anchor="middle" font-weight="normal" fill="#231f20" color="#231f20" textLength="15.94" lengthAdjust="spacingAndGlyphs">−0.42</text>
<text class="s" x="160.5" y="439.68" font-size="6.5" text-anchor="middle" font-weight="normal" fill="#231f20" color="#231f20" textLength="15.94" lengthAdjust="spacingAndGlyphs">−1.21</text>
<text class="s" x="184.8" y="439.68" font-size="6.5" text-anchor="middle" font-weight="normal" fill="#231f20" color="#231f20" textLength="8.76" lengthAdjust="spacingAndGlyphs">.14</text>
<text class="s" x="209.8" y="439.68" font-size="6.5" text-anchor="middle" font-weight="normal" fill="#231f20" color="#231f20" textLength="12.26" lengthAdjust="spacingAndGlyphs">0.23</text>
<text class="s" x="233.4" y="16.8" font-size="11.4" text-anchor="start" font-weight="bold" fill="#000" color="#000">B</text>
<text class="s" x="233.4" y="250.9" font-size="11.4" text-anchor="start" font-weight="bold" fill="#000" color="#000">D</text>
<defs><linearGradient id="gbar" x1="0" x2="1" y1="0" y2="0">
<stop offset="0" stop-color="#dc3e4f"/>
<stop offset="0.225" stop-color="#e46373"/>
<stop offset="0.245" stop-color="#eea6c1"/>
<stop offset="0.54" stop-color="#f1bdd4"/>
<stop offset="0.56" stop-color="#dcd4ed"/>
<stop offset="0.78" stop-color="#bfb6e4"/>
<stop offset="0.805" stop-color="#7566c4"/>
<stop offset="0.86" stop-color="#43369b"/>
<stop offset="1" stop-color="#372a90"/>
</linearGradient></defs>
<line x1="278" x2="278" y1="33" y2="80" stroke="#f5f5f5" stroke-width="0.7"/>
<line x1="302" x2="302" y1="33" y2="80" stroke="#f5f5f5" stroke-width="0.7"/>
<line x1="326" x2="326" y1="33" y2="80" stroke="#f5f5f5" stroke-width="0.7"/>
<line x1="350" x2="350" y1="33" y2="80" stroke="#f5f5f5" stroke-width="0.7"/>
<line x1="254" x2="373" y1="36.92" y2="36.92" stroke="#f5f5f5" stroke-width="0.6"/>
<line x1="254" x2="373" y1="42.23" y2="42.23" stroke="#f5f5f5" stroke-width="0.6"/>
<line x1="254" x2="373" y1="47.54" y2="47.54" stroke="#f5f5f5" stroke-width="0.6"/>
<line x1="254" x2="373" y1="52.85" y2="52.85" stroke="#f5f5f5" stroke-width="0.6"/>
<line x1="254" x2="373" y1="58.16" y2="58.16" stroke="#f5f5f5" stroke-width="0.6"/>
<line x1="254" x2="373" y1="63.47" y2="63.47" stroke="#f5f5f5" stroke-width="0.6"/>
<line x1="254" x2="373" y1="68.78" y2="68.78" stroke="#f5f5f5" stroke-width="0.6"/>
<line x1="254" x2="373" y1="74.09" y2="74.09" stroke="#f5f5f5" stroke-width="0.6"/>
<line x1="254" x2="373" y1="79.40" y2="79.40" stroke="#f5f5f5" stroke-width="0.6"/>
<rect x="254" y="33" width="119" height="47" fill="none" stroke="#e0e0e0" stroke-width="0.7"/>
<text x="250.4" y="38.47" font-size="4.4" text-anchor="end" font-weight="normal" fill="#555" color="#555">0.8</text>
<text x="250.4" y="43.78" font-size="4.4" text-anchor="end" font-weight="normal" fill="#555" color="#555">0.7</text>
<text x="250.4" y="49.09" font-size="4.4" text-anchor="end" font-weight="normal" fill="#555" color="#555">0.6</text>
<text x="250.4" y="54.40" font-size="4.4" text-anchor="end" font-weight="normal" fill="#555" color="#555">0.5</text>
<text x="250.4" y="59.71" font-size="4.4" text-anchor="end" font-weight="normal" fill="#555" color="#555">0.4</text>
<text x="250.4" y="65.02" font-size="4.4" text-anchor="end" font-weight="normal" fill="#555" color="#555">0.3</text>
<text x="250.4" y="70.33" font-size="4.4" text-anchor="end" font-weight="normal" fill="#555" color="#555">0.2</text>
<text x="250.4" y="75.64" font-size="4.4" text-anchor="end" font-weight="normal" fill="#555" color="#555">0.1</text>
<text x="250.4" y="80.95" font-size="4.4" text-anchor="end" font-weight="normal" fill="#555" color="#555">0.0</text>
<text transform="translate(239.6,57.5) rotate(-90)" x="0" y="0" font-size="6.3" text-anchor="middle" fill="#333" color="#333" textLength="44.5" lengthAdjust="spacingAndGlyphs">Enrichment score</text>
<text class="s" x="315.25" y="28.2" font-size="7.4" text-anchor="middle" font-weight="normal" fill="#2a2a2a" color="#2a2a2a" textLength="50.5" lengthAdjust="spacingAndGlyphs">IFN-g response</text>
<rect x="254" y="81.5" width="119" height="20.5" fill="none" stroke="#e0e0e0" stroke-width="0.7"/>
<rect x="254" y="81.5" width="1" height="16.00" fill="rgb(38,38,38)"/>
<rect x="255" y="81.5" width="1" height="16.00" fill="rgb(13,13,13)"/>
<rect x="256" y="81.5" width="1" height="16.00" fill="rgb(77,77,77)"/>
<rect x="257" y="81.5" width="1" height="16.00" fill="rgb(64,64,64)"/>
<rect x="258" y="81.5" width="1" height="16.00" fill="rgb(77,77,77)"/>
<rect x="259" y="81.5" width="1" height="16.00" fill="rgb(89,89,89)"/>
<rect x="260" y="81.5" width="1" height="16.00" fill="rgb(51,51,51)"/>
<rect x="261" y="81.5" width="1" height="16.00" fill="rgb(128,128,128)"/>
<rect x="262" y="81.5" width="1" height="16.00" fill="rgb(153,153,153)"/>
<rect x="263" y="81.5" width="1" height="16.00" fill="rgb(89,89,89)"/>
<rect x="264" y="81.5" width="1" height="16.00" fill="rgb(115,115,115)"/>
<rect x="265" y="81.5" width="1" height="16.00" fill="rgb(140,140,140)"/>
<rect x="266" y="81.5" width="1" height="16.00" fill="rgb(166,166,166)"/>
<rect x="267" y="81.5" width="1" height="16.00" fill="rgb(178,178,178)"/>
<rect x="268" y="81.5" width="1" height="16.00" fill="rgb(64,64,64)"/>
<rect x="269" y="81.5" width="1" height="16.00" fill="rgb(115,115,115)"/>
<rect x="270" y="81.5" width="1" height="16.00" fill="rgb(77,77,77)"/>
<rect x="271" y="81.5" width="1" height="16.00" fill="rgb(166,166,166)"/>
<rect x="273" y="81.5" width="3" height="16.00" fill="rgb(217,217,217)"/>
<rect x="276" y="81.5" width="1" height="16.00" fill="rgb(166,166,166)"/>
<rect x="277" y="81.5" width="1" height="16.00" fill="rgb(153,153,153)"/>
<rect x="278" y="81.5" width="1" height="16.00" fill="rgb(217,217,217)"/>
<rect x="280" y="81.5" width="1" height="16.00" fill="rgb(217,217,217)"/>
<rect x="281" y="81.5" width="1" height="16.00" fill="rgb(230,230,230)"/>
<rect x="283" y="81.5" width="1" height="16.00" fill="rgb(204,204,204)"/>
<rect x="284" y="81.5" width="1" height="16.00" fill="rgb(178,178,178)"/>
<rect x="285" y="81.5" width="1" height="16.00" fill="rgb(217,217,217)"/>
<rect x="286" y="81.5" width="1" height="16.00" fill="rgb(191,191,191)"/>
<rect x="287" y="81.5" width="1" height="16.00" fill="rgb(217,217,217)"/>
<rect x="288" y="81.5" width="1" height="16.00" fill="rgb(230,230,230)"/>
<rect x="289" y="81.5" width="1" height="16.00" fill="rgb(178,178,178)"/>
<rect x="290" y="81.5" width="1" height="16.00" fill="rgb(204,204,204)"/>
<rect x="291" y="81.5" width="1" height="16.00" fill="rgb(230,230,230)"/>
<rect x="292" y="81.5" width="1" height="16.00" fill="rgb(204,204,204)"/>
<rect x="293" y="81.5" width="1" height="16.00" fill="rgb(166,166,166)"/>
<rect x="294" y="81.5" width="1" height="16.00" fill="rgb(115,115,115)"/>
<rect x="313" y="81.5" width="1" height="16.00" fill="rgb(178,178,178)"/>
<rect x="314" y="81.5" width="1" height="16.00" fill="rgb(230,230,230)"/>
<rect x="316" y="81.5" width="1" height="16.00" fill="rgb(204,204,204)"/>
<rect x="317" y="81.5" width="1" height="16.00" fill="rgb(115,115,115)"/>
<rect x="318" y="81.5" width="1" height="16.00" fill="rgb(166,166,166)"/>
<rect x="320" y="81.5" width="1" height="16.00" fill="rgb(230,230,230)"/>
<rect x="321" y="81.5" width="1" height="16.00" fill="rgb(204,204,204)"/>
<rect x="322" y="81.5" width="1" height="16.00" fill="rgb(230,230,230)"/>
<rect x="324" y="81.5" width="1" height="16.00" fill="rgb(217,217,217)"/>
<rect x="327" y="81.5" width="1" height="16.00" fill="rgb(178,178,178)"/>
<rect x="328" y="81.5" width="1" height="16.00" fill="rgb(13,13,13)"/>
<rect x="329" y="81.5" width="1" height="16.00" fill="rgb(153,153,153)"/>
<rect x="331" y="81.5" width="1" height="16.00" fill="rgb(204,204,204)"/>
<rect x="332" y="81.5" width="1" height="16.00" fill="rgb(153,153,153)"/>
<rect x="333" y="81.5" width="1" height="16.00" fill="rgb(166,166,166)"/>
<rect x="334" y="81.5" width="1" height="16.00" fill="rgb(178,178,178)"/>
<rect x="335" y="81.5" width="1" height="16.00" fill="rgb(217,217,217)"/>
<rect x="336" y="81.5" width="1" height="16.00" fill="rgb(140,140,140)"/>
<rect x="337" y="81.5" width="1" height="16.00" fill="rgb(25,25,25)"/>
<rect x="338" y="81.5" width="1" height="16.00" fill="rgb(153,153,153)"/>
<rect x="339" y="81.5" width="2" height="16.00" fill="rgb(230,230,230)"/>
<rect x="341" y="81.5" width="1" height="16.00" fill="rgb(191,191,191)"/>
<rect x="342" y="81.5" width="1" height="16.00" fill="rgb(140,140,140)"/>
<rect x="343" y="81.5" width="1" height="16.00" fill="rgb(191,191,191)"/>
<rect x="344" y="81.5" width="1" height="16.00" fill="rgb(178,178,178)"/>
<rect x="345" y="81.5" width="1" height="16.00" fill="rgb(140,140,140)"/>
<rect x="346" y="81.5" width="2" height="16.00" fill="rgb(204,204,204)"/>
<rect x="348" y="81.5" width="1" height="16.00" fill="rgb(140,140,140)"/>
<rect x="349" y="81.5" width="1" height="16.00" fill="rgb(166,166,166)"/>
<rect x="353" y="81.5" width="1" height="16.00" fill="rgb(230,230,230)"/>
<rect x="358" y="81.5" width="1" height="16.00" fill="rgb(153,153,153)"/>
<rect x="359" y="81.5" width="1" height="16.00" fill="rgb(140,140,140)"/>
<rect x="360" y="81.5" width="1" height="16.00" fill="rgb(230,230,230)"/>
<rect x="361" y="81.5" width="1" height="16.00" fill="rgb(217,217,217)"/>
<rect x="362" y="81.5" width="1" height="16.00" fill="rgb(166,166,166)"/>
<rect x="363" y="81.5" width="1" height="16.00" fill="rgb(178,178,178)"/>
<rect x="364" y="81.5" width="1" height="16.00" fill="rgb(153,153,153)"/>
<rect x="365" y="81.5" width="1" height="16.00" fill="rgb(166,166,166)"/>
<rect x="366" y="81.5" width="1" height="16.00" fill="rgb(217,217,217)"/>
<rect x="367" y="81.5" width="1" height="16.00" fill="rgb(230,230,230)"/>
<rect x="254.6" y="97.5" width="113.4" height="3.799999999999997" fill="url(#gbar)"/>
<polyline points="254.4,79.3 254.75,59.25 255,44.25 255.6,39.9 256.9,36.75 258.75,35.1 261.5,34.5 264,34.8 268.75,36.2 275,39 282.8,42.7 292,46.9 300,50.8 310,55.5 320,60.2 330,64.5 340,68.4 346.7,70.8 353.5,73.8 360.2,76.8 363.6,78.2 367.6,79" fill="none" stroke="#cfeec6" stroke-width="2.3" stroke-linejoin="round" stroke-linecap="round"/>
<polyline points="254.4,79.3 254.75,59.25 255,44.25 255.6,39.9 256.9,36.75 258.75,35.1 261.5,34.5 264,34.8 268.75,36.2 275,39 282.8,42.7 292,46.9 300,50.8 310,55.5 320,60.2 330,64.5 340,68.4 346.7,70.8 353.5,73.8 360.2,76.8 363.6,78.2 367.6,79" fill="none" stroke="#52a148" stroke-width="1.15" stroke-linejoin="round" stroke-linecap="round"/>
<line x1="415.5" x2="415.5" y1="33.5" y2="79.6" stroke="#f5f5f5" stroke-width="0.7"/>
<line x1="439.5" x2="439.5" y1="33.5" y2="79.6" stroke="#f5f5f5" stroke-width="0.7"/>
<line x1="463.5" x2="463.5" y1="33.5" y2="79.6" stroke="#f5f5f5" stroke-width="0.7"/>
<line x1="487.5" x2="487.5" y1="33.5" y2="79.6" stroke="#f5f5f5" stroke-width="0.7"/>
<line x1="391.5" x2="511.5" y1="38.47" y2="38.47" stroke="#f5f5f5" stroke-width="0.6"/>
<line x1="391.5" x2="511.5" y1="42.94" y2="42.94" stroke="#f5f5f5" stroke-width="0.6"/>
<line x1="391.5" x2="511.5" y1="47.41" y2="47.41" stroke="#f5f5f5" stroke-width="0.6"/>
<line x1="391.5" x2="511.5" y1="51.88" y2="51.88" stroke="#f5f5f5" stroke-width="0.6"/>
<line x1="391.5" x2="511.5" y1="56.35" y2="56.35" stroke="#f5f5f5" stroke-width="0.6"/>
<line x1="391.5" x2="511.5" y1="60.82" y2="60.82" stroke="#f5f5f5" stroke-width="0.6"/>
<line x1="391.5" x2="511.5" y1="65.29" y2="65.29" stroke="#f5f5f5" stroke-width="0.6"/>
<line x1="391.5" x2="511.5" y1="69.76" y2="69.76" stroke="#f5f5f5" stroke-width="0.6"/>
<line x1="391.5" x2="511.5" y1="74.23" y2="74.23" stroke="#f5f5f5" stroke-width="0.6"/>
<line x1="391.5" x2="511.5" y1="78.70" y2="78.70" stroke="#f5f5f5" stroke-width="0.6"/>
<rect x="391.5" y="33.5" width="120.0" height="46.099999999999994" fill="none" stroke="#e0e0e0" stroke-width="0.7"/>
<text x="390.6" y="40.02" font-size="4.4" text-anchor="end" font-weight="normal" fill="#555" color="#555">0.9</text>
<text x="390.6" y="44.49" font-size="4.4" text-anchor="end" font-weight="normal" fill="#555" color="#555">0.8</text>
<text x="390.6" y="48.96" font-size="4.4" text-anchor="end" font-weight="normal" fill="#555" color="#555">0.7</text>
<text x="390.6" y="53.43" font-size="4.4" text-anchor="end" font-weight="normal" fill="#555" color="#555">0.6</text>
<text x="390.6" y="57.90" font-size="4.4" text-anchor="end" font-weight="normal" fill="#555" color="#555">0.5</text>
<text x="390.6" y="62.37" font-size="4.4" text-anchor="end" font-weight="normal" fill="#555" color="#555">0.4</text>
<text x="390.6" y="66.84" font-size="4.4" text-anchor="end" font-weight="normal" fill="#555" color="#555">0.3</text>
<text x="390.6" y="71.31" font-size="4.4" text-anchor="end" font-weight="normal" fill="#555" color="#555">0.2</text>
<text x="390.6" y="75.78" font-size="4.4" text-anchor="end" font-weight="normal" fill="#555" color="#555">0.1</text>
<text x="390.6" y="80.25" font-size="4.4" text-anchor="end" font-weight="normal" fill="#555" color="#555">0.0</text>
<text transform="translate(381.2,57.5) rotate(-90)" x="0" y="0" font-size="6.3" text-anchor="middle" fill="#333" color="#333" textLength="44.5" lengthAdjust="spacingAndGlyphs">Enrichment score</text>
<text class="s" x="450.8" y="28.2" font-size="7.4" text-anchor="middle" font-weight="normal" fill="#2a2a2a" color="#2a2a2a" textLength="49.6" lengthAdjust="spacingAndGlyphs">IFN-a response</text>
<rect x="391.5" y="81.4" width="120.0" height="20.599999999999994" fill="none" stroke="#e0e0e0" stroke-width="0.7"/>
<rect x="391" y="81.4" width="1" height="16.00" fill="rgb(128,128,128)"/>
<rect x="392" y="81.4" width="1" height="16.00" fill="rgb(13,13,13)"/>
<rect x="393" y="81.4" width="1" height="16.00" fill="rgb(38,38,38)"/>
<rect x="394" y="81.4" width="2" height="16.00" fill="rgb(102,102,102)"/>
<rect x="396" y="81.4" width="1" height="16.00" fill="rgb(77,77,77)"/>
<rect x="397" y="81.4" width="1" height="16.00" fill="rgb(51,51,51)"/>
<rect x="398" y="81.4" width="1" height="16.00" fill="rgb(89,89,89)"/>
<rect x="399" y="81.4" width="1" height="16.00" fill="rgb(153,153,153)"/>
<rect x="400" y="81.4" width="1" height="16.00" fill="rgb(178,178,178)"/>
<rect x="401" y="81.4" width="1" height="16.00" fill="rgb(153,153,153)"/>
<rect x="402" y="81.4" width="1" height="16.00" fill="rgb(178,178,178)"/>
<rect x="403" y="81.4" width="1" height="16.00" fill="rgb(204,204,204)"/>
<rect x="404" y="81.4" width="1" height="16.00" fill="rgb(178,178,178)"/>
<rect x="405" y="81.4" width="2" height="16.00" fill="rgb(128,128,128)"/>
<rect x="407" y="81.4" width="1" height="16.00" fill="rgb(166,166,166)"/>
<rect x="408" y="81.4" width="1" height="16.00" fill="rgb(128,128,128)"/>
<rect x="409" y="81.4" width="1" height="16.00" fill="rgb(217,217,217)"/>
<rect x="411" y="81.4" width="1" height="16.00" fill="rgb(230,230,230)"/>
<rect x="413" y="81.4" width="1" height="16.00" fill="rgb(89,89,89)"/>
<rect x="414" y="81.4" width="1" height="16.00" fill="rgb(178,178,178)"/>
<rect x="417" y="81.4" width="1" height="16.00" fill="rgb(230,230,230)"/>
<rect x="418" y="81.4" width="1" height="16.00" fill="rgb(178,178,178)"/>
<rect x="431" y="81.4" width="1" height="16.00" fill="rgb(153,153,153)"/>
<rect x="432" y="81.4" width="1" height="16.00" fill="rgb(217,217,217)"/>
<rect x="441" y="81.4" width="1" height="16.00" fill="rgb(89,89,89)"/>
<rect x="442" y="81.4" width="1" height="16.00" fill="rgb(191,191,191)"/>
<rect x="454" y="81.4" width="1" height="16.00" fill="rgb(153,153,153)"/>
<rect x="455" y="81.4" width="1" height="16.00" fill="rgb(115,115,115)"/>
<rect x="456" y="81.4" width="1" height="16.00" fill="rgb(217,217,217)"/>
<rect x="464" y="81.4" width="1" height="16.00" fill="rgb(191,191,191)"/>
<rect x="465" y="81.4" width="1" height="16.00" fill="rgb(204,204,204)"/>
<rect x="468" y="81.4" width="1" height="16.00" fill="rgb(191,191,191)"/>
<rect x="469" y="81.4" width="1" height="16.00" fill="rgb(178,178,178)"/>
<rect x="473" y="81.4" width="2" height="16.00" fill="rgb(217,217,217)"/>
<rect x="486" y="81.4" width="2" height="16.00" fill="rgb(178,178,178)"/>
<rect x="499" y="81.4" width="1" height="16.00" fill="rgb(217,217,217)"/>
<rect x="500" y="81.4" width="1" height="16.00" fill="rgb(140,140,140)"/>
<rect x="501" y="81.4" width="1" height="16.00" fill="rgb(217,217,217)"/>
<rect x="503" y="81.4" width="1" height="16.00" fill="rgb(230,230,230)"/>
<rect x="504" y="81.4" width="1" height="16.00" fill="rgb(166,166,166)"/>
<rect x="505" y="81.4" width="1" height="16.00" fill="rgb(230,230,230)"/>
<rect x="391.8" y="97.4" width="113.69999999999999" height="3.799999999999997" fill="url(#gbar)"/>
<polyline points="392.2,78 392.5,60 392.7,40 393.5,36.2 399.2,34.8 405.4,36.9 413.1,40 420.8,43.5 430,47.3 440,51.5 460,60 480,68.5 495,74.8 505,79" fill="none" stroke="#cfeec6" stroke-width="2.3" stroke-linejoin="round" stroke-linecap="round"/>
<polyline points="392.2,78 392.5,60 392.7,40 393.5,36.2 399.2,34.8 405.4,36.9 413.1,40 420.8,43.5 430,47.3 440,51.5 460,60 480,68.5 495,74.8 505,79" fill="none" stroke="#52a148" stroke-width="1.15" stroke-linejoin="round" stroke-linecap="round"/>
<line x1="278" x2="278" y1="127.2" y2="172.6" stroke="#f5f5f5" stroke-width="0.7"/>
<line x1="302" x2="302" y1="127.2" y2="172.6" stroke="#f5f5f5" stroke-width="0.7"/>
<line x1="326" x2="326" y1="127.2" y2="172.6" stroke="#f5f5f5" stroke-width="0.7"/>
<line x1="350" x2="350" y1="127.2" y2="172.6" stroke="#f5f5f5" stroke-width="0.7"/>
<line x1="254" x2="373" y1="127.50" y2="127.50" stroke="#f5f5f5" stroke-width="0.6"/>
<line x1="254" x2="373" y1="133.90" y2="133.90" stroke="#f5f5f5" stroke-width="0.6"/>
<line x1="254" x2="373" y1="140.30" y2="140.30" stroke="#f5f5f5" stroke-width="0.6"/>
<line x1="254" x2="373" y1="146.70" y2="146.70" stroke="#f5f5f5" stroke-width="0.6"/>
<line x1="254" x2="373" y1="153.10" y2="153.10" stroke="#f5f5f5" stroke-width="0.6"/>
<line x1="254" x2="373" y1="159.50" y2="159.50" stroke="#f5f5f5" stroke-width="0.6"/>
<line x1="254" x2="373" y1="165.90" y2="165.90" stroke="#f5f5f5" stroke-width="0.6"/>
<line x1="254" x2="373" y1="172.30" y2="172.30" stroke="#f5f5f5" stroke-width="0.6"/>
<rect x="254" y="127.2" width="119" height="45.39999999999999" fill="none" stroke="#e0e0e0" stroke-width="0.7"/>
<text x="250.4" y="129.05" font-size="4.4" text-anchor="end" font-weight="normal" fill="#555" color="#555">0.7</text>
<text x="250.4" y="135.45" font-size="4.4" text-anchor="end" font-weight="normal" fill="#555" color="#555">0.6</text>
<text x="250.4" y="141.85" font-size="4.4" text-anchor="end" font-weight="normal" fill="#555" color="#555">0.5</text>
<text x="250.4" y="148.25" font-size="4.4" text-anchor="end" font-weight="normal" fill="#555" color="#555">0.4</text>
<text x="250.4" y="154.65" font-size="4.4" text-anchor="end" font-weight="normal" fill="#555" color="#555">0.3</text>
<text x="250.4" y="161.05" font-size="4.4" text-anchor="end" font-weight="normal" fill="#555" color="#555">0.2</text>
<text x="250.4" y="167.45" font-size="4.4" text-anchor="end" font-weight="normal" fill="#555" color="#555">0.1</text>
<text x="250.4" y="173.85" font-size="4.4" text-anchor="end" font-weight="normal" fill="#555" color="#555">0.0</text>
<text transform="translate(239.6,149.5) rotate(-90)" x="0" y="0" font-size="6.3" text-anchor="middle" fill="#333" color="#333" textLength="44.5" lengthAdjust="spacingAndGlyphs">Enrichment score</text>
<text class="s" x="315.4" y="119.6" font-size="7.4" text-anchor="middle" font-weight="normal" fill="#2a2a2a" color="#2a2a2a" textLength="75.2" lengthAdjust="spacingAndGlyphs">Inflammatory resposne</text>
<rect x="254" y="176.6" width="119" height="20.0" fill="none" stroke="#e0e0e0" stroke-width="0.7"/>
<rect x="254" y="176.6" width="1" height="15.70" fill="rgb(178,178,178)"/>
<rect x="255" y="176.6" width="1" height="15.70" fill="rgb(38,38,38)"/>
<rect x="256" y="176.6" width="1" height="15.70" fill="rgb(13,13,13)"/>
<rect x="257" y="176.6" width="1" height="15.70" fill="rgb(38,38,38)"/>
<rect x="258" y="176.6" width="1" height="15.70" fill="rgb(64,64,64)"/>
<rect x="259" y="176.6" width="1" height="15.70" fill="rgb(115,115,115)"/>
<rect x="260" y="176.6" width="1" height="15.70" fill="rgb(38,38,38)"/>
<rect x="261" y="176.6" width="1" height="15.70" fill="rgb(25,25,25)"/>
<rect x="262" y="176.6" width="1" height="15.70" fill="rgb(64,64,64)"/>
<rect x="263" y="176.6" width="1" height="15.70" fill="rgb(115,115,115)"/>
<rect x="264" y="176.6" width="1" height="15.70" fill="rgb(128,128,128)"/>
<rect x="265" y="176.6" width="1" height="15.70" fill="rgb(115,115,115)"/>
<rect x="266" y="176.6" width="1" height="15.70" fill="rgb(89,89,89)"/>
<rect x="267" y="176.6" width="1" height="15.70" fill="rgb(140,140,140)"/>
<rect x="268" y="176.6" width="1" height="15.70" fill="rgb(128,128,128)"/>
<rect x="269" y="176.6" width="1" height="15.70" fill="rgb(38,38,38)"/>
<rect x="270" y="176.6" width="1" height="15.70" fill="rgb(178,178,178)"/>
<rect x="271" y="176.6" width="1" height="15.70" fill="rgb(230,230,230)"/>
<rect x="272" y="176.6" width="1" height="15.70" fill="rgb(166,166,166)"/>
<rect x="273" y="176.6" width="1" height="15.70" fill="rgb(153,153,153)"/>
<rect x="274" y="176.6" width="1" height="15.70" fill="rgb(140,140,140)"/>
<rect x="275" y="176.6" width="1" height="15.70" fill="rgb(166,166,166)"/>
<rect x="276" y="176.6" width="1" height="15.70" fill="rgb(178,178,178)"/>
<rect x="277" y="176.6" width="1" height="15.70" fill="rgb(102,102,102)"/>
<rect x="278" y="176.6" width="1" height="15.70" fill="rgb(191,191,191)"/>
<rect x="279" y="176.6" width="1" height="15.70" fill="rgb(217,217,217)"/>
<rect x="280" y="176.6" width="1" height="15.70" fill="rgb(166,166,166)"/>
<rect x="281" y="176.6" width="1" height="15.70" fill="rgb(178,178,178)"/>
<rect x="282" y="176.6" width="1" height="15.70" fill="rgb(166,166,166)"/>
<rect x="283" y="176.6" width="1" height="15.70" fill="rgb(230,230,230)"/>
<rect x="285" y="176.6" width="1" height="15.70" fill="rgb(230,230,230)"/>
<rect x="286" y="176.6" width="1" height="15.70" fill="rgb(140,140,140)"/>
<rect x="287" y="176.6" width="2" height="15.70" fill="rgb(178,178,178)"/>
<rect x="289" y="176.6" width="1" height="15.70" fill="rgb(166,166,166)"/>
<rect x="290" y="176.6" width="1" height="15.70" fill="rgb(178,178,178)"/>
<rect x="291" y="176.6" width="1" height="15.70" fill="rgb(204,204,204)"/>
<rect x="292" y="176.6" width="1" height="15.70" fill="rgb(166,166,166)"/>
<rect x="293" y="176.6" width="1" height="15.70" fill="rgb(230,230,230)"/>
<rect x="294" y="176.6" width="1" height="15.70" fill="rgb(191,191,191)"/>
<rect x="295" y="176.6" width="1" height="15.70" fill="rgb(77,77,77)"/>
<rect x="296" y="176.6" width="1" height="15.70" fill="rgb(178,178,178)"/>
<rect x="297" y="176.6" width="1" height="15.70" fill="rgb(230,230,230)"/>
<rect x="299" y="176.6" width="1" height="15.70" fill="rgb(178,178,178)"/>
<rect x="300" y="176.6" width="1" height="15.70" fill="rgb(166,166,166)"/>
<rect x="301" y="176.6" width="1" height="15.70" fill="rgb(230,230,230)"/>
<rect x="303" y="176.6" width="1" height="15.70" fill="rgb(178,178,178)"/>
<rect x="304" y="176.6" width="1" height="15.70" fill="rgb(102,102,102)"/>
<rect x="305" y="176.6" width="1" height="15.70" fill="rgb(153,153,153)"/>
<rect x="306" y="176.6" width="1" height="15.70" fill="rgb(178,178,178)"/>
<rect x="307" y="176.6" width="1" height="15.70" fill="rgb(191,191,191)"/>
<rect x="311" y="176.6" width="1" height="15.70" fill="rgb(204,204,204)"/>
<rect x="312" y="176.6" width="1" height="15.70" fill="rgb(102,102,102)"/>
<rect x="313" y="176.6" width="1" height="15.70" fill="rgb(178,178,178)"/>
<rect x="314" y="176.6" width="1" height="15.70" fill="rgb(166,166,166)"/>
<rect x="315" y="176.6" width="1" height="15.70" fill="rgb(115,115,115)"/>
<rect x="316" y="176.6" width="1" height="15.70" fill="rgb(217,217,217)"/>
<rect x="317" y="176.6" width="1" height="15.70" fill="rgb(230,230,230)"/>
<rect x="318" y="176.6" width="1" height="15.70" fill="rgb(140,140,140)"/>
<rect x="319" y="176.6" width="1" height="15.70" fill="rgb(166,166,166)"/>
<rect x="320" y="176.6" width="1" height="15.70" fill="rgb(230,230,230)"/>
<rect x="321" y="176.6" width="2" height="15.70" fill="rgb(153,153,153)"/>
<rect x="323" y="176.6" width="1" height="15.70" fill="rgb(166,166,166)"/>
<rect x="324" y="176.6" width="1" height="15.70" fill="rgb(77,77,77)"/>
<rect x="325" y="176.6" width="1" height="15.70" fill="rgb(178,178,178)"/>
<rect x="326" y="176.6" width="1" height="15.70" fill="rgb(140,140,140)"/>
<rect x="327" y="176.6" width="1" height="15.70" fill="rgb(153,153,153)"/>
<rect x="328" y="176.6" width="1" height="15.70" fill="rgb(166,166,166)"/>
<rect x="329" y="176.6" width="1" height="15.70" fill="rgb(178,178,178)"/>
<rect x="330" y="176.6" width="1" height="15.70" fill="rgb(153,153,153)"/>
<rect x="331" y="176.6" width="1" height="15.70" fill="rgb(166,166,166)"/>
<rect x="332" y="176.6" width="1" height="15.70" fill="rgb(178,178,178)"/>
<rect x="333" y="176.6" width="1" height="15.70" fill="rgb(128,128,128)"/>
<rect x="334" y="176.6" width="1" height="15.70" fill="rgb(153,153,153)"/>
<rect x="335" y="176.6" width="1" height="15.70" fill="rgb(166,166,166)"/>
<rect x="336" y="176.6" width="1" height="15.70" fill="rgb(178,178,178)"/>
<rect x="337" y="176.6" width="1" height="15.70" fill="rgb(51,51,51)"/>
<rect x="338" y="176.6" width="1" height="15.70" fill="rgb(166,166,166)"/>
<rect x="339" y="176.6" width="1" height="15.70" fill="rgb(153,153,153)"/>
<rect x="340" y="176.6" width="1" height="15.70" fill="rgb(140,140,140)"/>
<rect x="341" y="176.6" width="1" height="15.70" fill="rgb(128,128,128)"/>
<rect x="342" y="176.6" width="1" height="15.70" fill="rgb(178,178,178)"/>
<rect x="343" y="176.6" width="1" height="15.70" fill="rgb(166,166,166)"/>
<rect x="344" y="176.6" width="1" height="15.70" fill="rgb(153,153,153)"/>
<rect x="345" y="176.6" width="1" height="15.70" fill="rgb(102,102,102)"/>
<rect x="346" y="176.6" width="1" height="15.70" fill="rgb(204,204,204)"/>
<rect x="347" y="176.6" width="1" height="15.70" fill="rgb(178,178,178)"/>
<rect x="348" y="176.6" width="1" height="15.70" fill="rgb(153,153,153)"/>
<rect x="349" y="176.6" width="1" height="15.70" fill="rgb(166,166,166)"/>
<rect x="350" y="176.6" width="1" height="15.70" fill="rgb(64,64,64)"/>
<rect x="351" y="176.6" width="2" height="15.70" fill="rgb(51,51,51)"/>
<rect x="353" y="176.6" width="1" height="15.70" fill="rgb(77,77,77)"/>
<rect x="354" y="176.6" width="1" height="15.70" fill="rgb(191,191,191)"/>
<rect x="356" y="176.6" width="1" height="15.70" fill="rgb(217,217,217)"/>
<rect x="357" y="176.6" width="1" height="15.70" fill="rgb(204,204,204)"/>
<rect x="358" y="176.6" width="1" height="15.70" fill="rgb(230,230,230)"/>
<rect x="360" y="176.6" width="2" height="15.70" fill="rgb(173,173,173)"/>
<rect x="362" y="176.6" width="1" height="15.70" fill="rgb(230,230,230)"/>
<rect x="364" y="176.6" width="1" height="15.70" fill="rgb(217,217,217)"/>
<rect x="365" y="176.6" width="1" height="15.70" fill="rgb(128,128,128)"/>
<rect x="366" y="176.6" width="1" height="15.70" fill="rgb(140,140,140)"/>
<rect x="367" y="176.6" width="1" height="15.70" fill="rgb(230,230,230)"/>
<rect x="368" y="176.6" width="1" height="15.70" fill="rgb(166,166,166)"/>
<rect x="369" y="176.6" width="1" height="15.70" fill="rgb(178,178,178)"/>
<rect x="254.6" y="192.3" width="113.4" height="3.6999999999999886" fill="url(#gbar)"/>
<polyline points="255.25,172 255.6,153.25 256.25,144.5 257.5,138.9 259.4,134.5 261.9,131.4 265,130.1 268.75,130.1 272.5,131.4 277.5,133.5 282.5,136 287.5,138.9 293.75,142.25 300,145.75 306.25,149.25 310,151 316.25,154.75 322.5,158.25 328.75,161.4 335,164.25 341.25,166.4 347.5,168.9 350.6,169.75 353.75,168.9 356.25,170.1 360,171.75 365,173.5 367.5,173 369.75,172" fill="none" stroke="#cfeec6" stroke-width="2.3" stroke-linejoin="round" stroke-linecap="round"/>
<polyline points="255.25,172 255.6,153.25 256.25,144.5 257.5,138.9 259.4,134.5 261.9,131.4 265,130.1 268.75,130.1 272.5,131.4 277.5,133.5 282.5,136 287.5,138.9 293.75,142.25 300,145.75 306.25,149.25 310,151 316.25,154.75 322.5,158.25 328.75,161.4 335,164.25 341.25,166.4 347.5,168.9 350.6,169.75 353.75,168.9 356.25,170.1 360,171.75 365,173.5 367.5,173 369.75,172" fill="none" stroke="#52a148" stroke-width="1.15" stroke-linejoin="round" stroke-linecap="round"/>
<line x1="415.5" x2="415.5" y1="127.6" y2="171" stroke="#f5f5f5" stroke-width="0.7"/>
<line x1="439.5" x2="439.5" y1="127.6" y2="171" stroke="#f5f5f5" stroke-width="0.7"/>
<line x1="463.5" x2="463.5" y1="127.6" y2="171" stroke="#f5f5f5" stroke-width="0.7"/>
<line x1="487.5" x2="487.5" y1="127.6" y2="171" stroke="#f5f5f5" stroke-width="0.7"/>
<line x1="391.5" x2="511.5" y1="128.28" y2="128.28" stroke="#f5f5f5" stroke-width="0.6"/>
<line x1="391.5" x2="511.5" y1="135.25" y2="135.25" stroke="#f5f5f5" stroke-width="0.6"/>
<line x1="391.5" x2="511.5" y1="142.22" y2="142.22" stroke="#f5f5f5" stroke-width="0.6"/>
<line x1="391.5" x2="511.5" y1="149.19" y2="149.19" stroke="#f5f5f5" stroke-width="0.6"/>
<line x1="391.5" x2="511.5" y1="156.16" y2="156.16" stroke="#f5f5f5" stroke-width="0.6"/>
<line x1="391.5" x2="511.5" y1="163.13" y2="163.13" stroke="#f5f5f5" stroke-width="0.6"/>
<line x1="391.5" x2="511.5" y1="170.10" y2="170.10" stroke="#f5f5f5" stroke-width="0.6"/>
<rect x="391.5" y="127.6" width="120.0" height="43.400000000000006" fill="none" stroke="#e0e0e0" stroke-width="0.7"/>
<text x="390.6" y="129.83" font-size="4.4" text-anchor="end" font-weight="normal" fill="#555" color="#555">0.6</text>
<text x="390.6" y="136.80" font-size="4.4" text-anchor="end" font-weight="normal" fill="#555" color="#555">0.5</text>
<text x="390.6" y="143.77" font-size="4.4" text-anchor="end" font-weight="normal" fill="#555" color="#555">0.4</text>
<text x="390.6" y="150.74" font-size="4.4" text-anchor="end" font-weight="normal" fill="#555" color="#555">0.3</text>
<text x="390.6" y="157.71" font-size="4.4" text-anchor="end" font-weight="normal" fill="#555" color="#555">0.2</text>
<text x="390.6" y="164.68" font-size="4.4" text-anchor="end" font-weight="normal" fill="#555" color="#555">0.1</text>
<text x="390.6" y="171.65" font-size="4.4" text-anchor="end" font-weight="normal" fill="#555" color="#555">0.0</text>
<text transform="translate(381.2,149.2) rotate(-90)" x="0" y="0" font-size="6.3" text-anchor="middle" fill="#333" color="#333" textLength="44.5" lengthAdjust="spacingAndGlyphs">Enrichment score</text>
<text class="s" x="451" y="119.7" font-size="7.4" text-anchor="middle" font-weight="normal" fill="#2a2a2a" color="#2a2a2a" textLength="84" lengthAdjust="spacingAndGlyphs">TNF-a signaling via NFKb</text>
<rect x="391.5" y="176.7" width="120.0" height="19.900000000000006" fill="none" stroke="#e0e0e0" stroke-width="0.7"/>
<rect x="392" y="176.7" width="1" height="15.60" fill="rgb(128,128,128)"/>
<rect x="393" y="176.7" width="1" height="15.60" fill="rgb(13,13,13)"/>
<rect x="394" y="176.7" width="1" height="15.60" fill="rgb(25,25,25)"/>
<rect x="395" y="176.7" width="2" height="15.60" fill="rgb(38,38,38)"/>
<rect x="397" y="176.7" width="1" height="15.60" fill="rgb(51,51,51)"/>
<rect x="398" y="176.7" width="1" height="15.60" fill="rgb(102,102,102)"/>
<rect x="399" y="176.7" width="1" height="15.60" fill="rgb(64,64,64)"/>
<rect x="400" y="176.7" width="1" height="15.60" fill="rgb(89,89,89)"/>
<rect x="401" y="176.7" width="1" height="15.60" fill="rgb(115,115,115)"/>
<rect x="402" y="176.7" width="1" height="15.60" fill="rgb(89,89,89)"/>
<rect x="403" y="176.7" width="1" height="15.60" fill="rgb(102,102,102)"/>
<rect x="404" y="176.7" width="1" height="15.60" fill="rgb(77,77,77)"/>
<rect x="405" y="176.7" width="1" height="15.60" fill="rgb(102,102,102)"/>
<rect x="406" y="176.7" width="1" height="15.60" fill="rgb(128,128,128)"/>
<rect x="407" y="176.7" width="1" height="15.60" fill="rgb(115,115,115)"/>
<rect x="408" y="176.7" width="2" height="15.60" fill="rgb(140,140,140)"/>
<rect x="410" y="176.7" width="1" height="15.60" fill="rgb(204,204,204)"/>
<rect x="412" y="176.7" width="1" height="15.60" fill="rgb(178,178,178)"/>
<rect x="413" y="176.7" width="1" height="15.60" fill="rgb(230,230,230)"/>
<rect x="414" y="176.7" width="1" height="15.60" fill="rgb(166,166,166)"/>
<rect x="415" y="176.7" width="1" height="15.60" fill="rgb(230,230,230)"/>
<rect x="424" y="176.7" width="1" height="15.60" fill="rgb(178,178,178)"/>
<rect x="425" y="176.7" width="1" height="15.60" fill="rgb(115,115,115)"/>
<rect x="426" y="176.7" width="1" height="15.60" fill="rgb(38,38,38)"/>
<rect x="427" y="176.7" width="1" height="15.60" fill="rgb(51,51,51)"/>
<rect x="428" y="176.7" width="1" height="15.60" fill="rgb(178,178,178)"/>
<rect x="431" y="176.7" width="1" height="15.60" fill="rgb(230,230,230)"/>
<rect x="432" y="176.7" width="1" height="15.60" fill="rgb(178,178,178)"/>
<rect x="433" y="176.7" width="1" height="15.60" fill="rgb(230,230,230)"/>
<rect x="438" y="176.7" width="1" height="15.60" fill="rgb(166,166,166)"/>
<rect x="439" y="176.7" width="1" height="15.60" fill="rgb(153,153,153)"/>
<rect x="440" y="176.7" width="1" height="15.60" fill="rgb(178,178,178)"/>
<rect x="441" y="176.7" width="2" height="15.60" fill="rgb(230,230,230)"/>
<rect x="443" y="176.7" width="1" height="15.60" fill="rgb(140,140,140)"/>
<rect x="444" y="176.7" width="1" height="15.60" fill="rgb(178,178,178)"/>
<rect x="446" y="176.7" width="1" height="15.60" fill="rgb(178,178,178)"/>
<rect x="447" y="176.7" width="1" height="15.60" fill="rgb(166,166,166)"/>
<rect x="448" y="176.7" width="1" height="15.60" fill="rgb(230,230,230)"/>
<rect x="450" y="176.7" width="1" height="15.60" fill="rgb(217,217,217)"/>
<rect x="454" y="176.7" width="1" height="15.60" fill="rgb(166,166,166)"/>
<rect x="455" y="176.7" width="1" height="15.60" fill="rgb(140,140,140)"/>
<rect x="456" y="176.7" width="1" height="15.60" fill="rgb(217,217,217)"/>
<rect x="457" y="176.7" width="1" height="15.60" fill="rgb(178,178,178)"/>
<rect x="458" y="176.7" width="1" height="15.60" fill="rgb(230,230,230)"/>
<rect x="460" y="176.7" width="1" height="15.60" fill="rgb(153,153,153)"/>
<rect x="461" y="176.7" width="1" height="15.60" fill="rgb(102,102,102)"/>
<rect x="462" y="176.7" width="1" height="15.60" fill="rgb(166,166,166)"/>
<rect x="463" y="176.7" width="1" height="15.60" fill="rgb(204,204,204)"/>
<rect x="464" y="176.7" width="1" height="15.60" fill="rgb(230,230,230)"/>
<rect x="465" y="176.7" width="1" height="15.60" fill="rgb(166,166,166)"/>
<rect x="466" y="176.7" width="1" height="15.60" fill="rgb(140,140,140)"/>
<rect x="467" y="176.7" width="1" height="15.60" fill="rgb(128,128,128)"/>
<rect x="468" y="176.7" width="1" height="15.60" fill="rgb(140,140,140)"/>
<rect x="469" y="176.7" width="1" height="15.60" fill="rgb(77,77,77)"/>
<rect x="470" y="176.7" width="1" height="15.60" fill="rgb(64,64,64)"/>
<rect x="471" y="176.7" width="1" height="15.60" fill="rgb(178,178,178)"/>
<rect x="472" y="176.7" width="1" height="15.60" fill="rgb(140,140,140)"/>
<rect x="473" y="176.7" width="1" height="15.60" fill="rgb(178,178,178)"/>
<rect x="474" y="176.7" width="1" height="15.60" fill="rgb(230,230,230)"/>
<rect x="476" y="176.7" width="1" height="15.60" fill="rgb(153,153,153)"/>
<rect x="477" y="176.7" width="2" height="15.60" fill="rgb(140,140,140)"/>
<rect x="479" y="176.7" width="1" height="15.60" fill="rgb(102,102,102)"/>
<rect x="480" y="176.7" width="1" height="15.60" fill="rgb(128,128,128)"/>
<rect x="481" y="176.7" width="1" height="15.60" fill="rgb(204,204,204)"/>
<rect x="482" y="176.7" width="1" height="15.60" fill="rgb(166,166,166)"/>
<rect x="483" y="176.7" width="1" height="15.60" fill="rgb(140,140,140)"/>
<rect x="484" y="176.7" width="1" height="15.60" fill="rgb(153,153,153)"/>
<rect x="485" y="176.7" width="1" height="15.60" fill="rgb(128,128,128)"/>
<rect x="486" y="176.7" width="1" height="15.60" fill="rgb(140,140,140)"/>
<rect x="487" y="176.7" width="1" height="15.60" fill="rgb(128,128,128)"/>
<rect x="488" y="176.7" width="1" height="15.60" fill="rgb(115,115,115)"/>
<rect x="489" y="176.7" width="1" height="15.60" fill="rgb(77,77,77)"/>
<rect x="490" y="176.7" width="1" height="15.60" fill="rgb(102,102,102)"/>
<rect x="491" y="176.7" width="1" height="15.60" fill="rgb(204,204,204)"/>
<rect x="492" y="176.7" width="1" height="15.60" fill="rgb(230,230,230)"/>
<rect x="493" y="176.7" width="1" height="15.60" fill="rgb(178,178,178)"/>
<rect x="494" y="176.7" width="1" height="15.60" fill="rgb(153,153,153)"/>
<rect x="495" y="176.7" width="1" height="15.60" fill="rgb(140,140,140)"/>
<rect x="496" y="176.7" width="1" height="15.60" fill="rgb(230,230,230)"/>
<rect x="497" y="176.7" width="1" height="15.60" fill="rgb(140,140,140)"/>
<rect x="498" y="176.7" width="1" height="15.60" fill="rgb(128,128,128)"/>
<rect x="499" y="176.7" width="1" height="15.60" fill="rgb(140,140,140)"/>
<rect x="500" y="176.7" width="1" height="15.60" fill="rgb(128,128,128)"/>
<rect x="501" y="176.7" width="1" height="15.60" fill="rgb(140,140,140)"/>
<rect x="502" y="176.7" width="1" height="15.60" fill="rgb(166,166,166)"/>
<rect x="503" y="176.7" width="2" height="15.60" fill="rgb(230,230,230)"/>
<rect x="505" y="176.7" width="1" height="15.60" fill="rgb(115,115,115)"/>
<rect x="506" y="176.7" width="1" height="15.60" fill="rgb(128,128,128)"/>
<rect x="507" y="176.7" width="1" height="15.60" fill="rgb(230,230,230)"/>
<rect x="391.8" y="192.3" width="113.69999999999999" height="3.6999999999999886" fill="url(#gbar)"/>
<polyline points="392.75,168.25 393.25,158.25 394.25,147 395.5,139.5 396.75,135.1 398.6,132 401.1,130.5 404.25,130.1 408,130.4 411.75,132 419.25,136.4 425.5,140.1 431.75,143.9 438,147.6 444.25,151.4 450,154.6 456.25,158.25 462.5,162.25 468.75,165.1 475,167.6 481.25,169.9 487.5,171.4 493.75,173 500,172.6 504.4,172 505.6,173.25 506.9,170.1" fill="none" stroke="#cfeec6" stroke-width="2.3" stroke-linejoin="round" stroke-linecap="round"/>
<polyline points="392.75,168.25 393.25,158.25 394.25,147 395.5,139.5 396.75,135.1 398.6,132 401.1,130.5 404.25,130.1 408,130.4 411.75,132 419.25,136.4 425.5,140.1 431.75,143.9 438,147.6 444.25,151.4 450,154.6 456.25,158.25 462.5,162.25 468.75,165.1 475,167.6 481.25,169.9 487.5,171.4 493.75,173 500,172.6 504.4,172 505.6,173.25 506.9,170.1" fill="none" stroke="#52a148" stroke-width="1.15" stroke-linejoin="round" stroke-linecap="round"/>
<line x1="278" x2="278" y1="267.2" y2="319.1" stroke="#f5f5f5" stroke-width="0.7"/>
<line x1="302" x2="302" y1="267.2" y2="319.1" stroke="#f5f5f5" stroke-width="0.7"/>
<line x1="326" x2="326" y1="267.2" y2="319.1" stroke="#f5f5f5" stroke-width="0.7"/>
<line x1="350" x2="350" y1="267.2" y2="319.1" stroke="#f5f5f5" stroke-width="0.7"/>
<line x1="254" x2="373" y1="267.85" y2="267.85" stroke="#f5f5f5" stroke-width="0.6"/>
<line x1="254" x2="373" y1="276.70" y2="276.70" stroke="#f5f5f5" stroke-width="0.6"/>
<line x1="254" x2="373" y1="285.55" y2="285.55" stroke="#f5f5f5" stroke-width="0.6"/>
<line x1="254" x2="373" y1="294.40" y2="294.40" stroke="#f5f5f5" stroke-width="0.6"/>
<line x1="254" x2="373" y1="303.25" y2="303.25" stroke="#f5f5f5" stroke-width="0.6"/>
<line x1="254" x2="373" y1="312.10" y2="312.10" stroke="#f5f5f5" stroke-width="0.6"/>
<rect x="254" y="267.2" width="119" height="51.900000000000034" fill="none" stroke="#e0e0e0" stroke-width="0.7"/>
<text x="250.4" y="269.40" font-size="4.4" text-anchor="end" font-weight="normal" fill="#555" color="#555">0.1</text>
<text x="250.4" y="278.25" font-size="4.4" text-anchor="end" font-weight="normal" fill="#555" color="#555">0.0</text>
<text x="250.4" y="287.10" font-size="4.4" text-anchor="end" font-weight="normal" fill="#555" color="#555">-0.1</text>
<text x="250.4" y="295.95" font-size="4.4" text-anchor="end" font-weight="normal" fill="#555" color="#555">-0.2</text>
<text x="250.4" y="304.80" font-size="4.4" text-anchor="end" font-weight="normal" fill="#555" color="#555">-0.3</text>
<text x="250.4" y="313.65" font-size="4.4" text-anchor="end" font-weight="normal" fill="#555" color="#555">-0.4</text>
<text transform="translate(239.6,294.4) rotate(-90)" x="0" y="0" font-size="6.3" text-anchor="middle" fill="#333" color="#333" textLength="44.5" lengthAdjust="spacingAndGlyphs">Enrichment score</text>
<text class="s" x="315" y="262.8" font-size="7.4" text-anchor="middle" font-weight="normal" fill="#2a2a2a" color="#2a2a2a" textLength="32.4" lengthAdjust="spacingAndGlyphs">Glycolysis</text>
<rect x="254" y="321" width="119" height="22.19999999999999" fill="none" stroke="#e0e0e0" stroke-width="0.7"/>
<rect x="253" y="321" width="1" height="17.00" fill="rgb(230,230,230)"/>
<rect x="254" y="321" width="2" height="17.00" fill="rgb(166,166,166)"/>
<rect x="256" y="321" width="1" height="17.00" fill="rgb(191,191,191)"/>
<rect x="257" y="321" width="1" height="17.00" fill="rgb(230,230,230)"/>
<rect x="258" y="321" width="1" height="17.00" fill="rgb(166,166,166)"/>
<rect x="259" y="321" width="1" height="17.00" fill="rgb(38,38,38)"/>
<rect x="260" y="321" width="1" height="17.00" fill="rgb(166,166,166)"/>
<rect x="261" y="321" width="1" height="17.00" fill="rgb(153,153,153)"/>
<rect x="262" y="321" width="1" height="17.00" fill="rgb(115,115,115)"/>
<rect x="263" y="321" width="1" height="17.00" fill="rgb(166,166,166)"/>
<rect x="264" y="321" width="1" height="17.00" fill="rgb(178,178,178)"/>
<rect x="265" y="321" width="1" height="17.00" fill="rgb(115,115,115)"/>
<rect x="266" y="321" width="1" height="17.00" fill="rgb(38,38,38)"/>
<rect x="267" y="321" width="1" height="17.00" fill="rgb(153,153,153)"/>
<rect x="268" y="321" width="1" height="17.00" fill="rgb(204,204,204)"/>
<rect x="269" y="321" width="1" height="17.00" fill="rgb(153,153,153)"/>
<rect x="270" y="321" width="1" height="17.00" fill="rgb(140,140,140)"/>
<rect x="271" y="321" width="1" height="17.00" fill="rgb(217,217,217)"/>
<rect x="272" y="321" width="1" height="17.00" fill="rgb(178,178,178)"/>
<rect x="273" y="321" width="1" height="17.00" fill="rgb(166,166,166)"/>
<rect x="274" y="321" width="1" height="17.00" fill="rgb(153,153,153)"/>
<rect x="275" y="321" width="3" height="17.00" fill="rgb(166,166,166)"/>
<rect x="278" y="321" width="1" height="17.00" fill="rgb(230,230,230)"/>
<rect x="279" y="321" width="1" height="17.00" fill="rgb(153,153,153)"/>
<rect x="280" y="321" width="1" height="17.00" fill="rgb(140,140,140)"/>
<rect x="281" y="321" width="1" height="17.00" fill="rgb(128,128,128)"/>
<rect x="282" y="321" width="1" height="17.00" fill="rgb(77,77,77)"/>
<rect x="283" y="321" width="1" height="17.00" fill="rgb(38,38,38)"/>
<rect x="284" y="321" width="1" height="17.00" fill="rgb(128,128,128)"/>
<rect x="285" y="321" width="1" height="17.00" fill="rgb(102,102,102)"/>
<rect x="286" y="321" width="1" height="17.00" fill="rgb(153,153,153)"/>
<rect x="287" y="321" width="1" height="17.00" fill="rgb(217,217,217)"/>
<rect x="288" y="321" width="1" height="17.00" fill="rgb(178,178,178)"/>
<rect x="289" y="321" width="1" height="17.00" fill="rgb(128,128,128)"/>
<rect x="290" y="321" width="1" height="17.00" fill="rgb(204,204,204)"/>
<rect x="293" y="321" width="1" height="17.00" fill="rgb(204,204,204)"/>
<rect x="294" y="321" width="1" height="17.00" fill="rgb(140,140,140)"/>
<rect x="295" y="321" width="1" height="17.00" fill="rgb(115,115,115)"/>
<rect x="296" y="321" width="1" height="17.00" fill="rgb(166,166,166)"/>
<rect x="299" y="321" width="1" height="17.00" fill="rgb(217,217,217)"/>
<rect x="300" y="321" width="1" height="17.00" fill="rgb(230,230,230)"/>
<rect x="302" y="321" width="1" height="17.00" fill="rgb(230,230,230)"/>
<rect x="303" y="321" width="1" height="17.00" fill="rgb(178,178,178)"/>
<rect x="304" y="321" width="1" height="17.00" fill="rgb(166,166,166)"/>
<rect x="305" y="321" width="1" height="17.00" fill="rgb(178,178,178)"/>
<rect x="306" y="321" width="1" height="17.00" fill="rgb(191,191,191)"/>
<rect x="307" y="321" width="1" height="17.00" fill="rgb(230,230,230)"/>
<rect x="309" y="321" width="1" height="17.00" fill="rgb(204,204,204)"/>
<rect x="310" y="321" width="1" height="17.00" fill="rgb(178,178,178)"/>
<rect x="311" y="321" width="1" height="17.00" fill="rgb(217,217,217)"/>
<rect x="312" y="321" width="1" height="17.00" fill="rgb(115,115,115)"/>
<rect x="313" y="321" width="1" height="17.00" fill="rgb(128,128,128)"/>
<rect x="314" y="321" width="1" height="17.00" fill="rgb(140,140,140)"/>
<rect x="315" y="321" width="1" height="17.00" fill="rgb(178,178,178)"/>
<rect x="316" y="321" width="1" height="17.00" fill="rgb(115,115,115)"/>
<rect x="317" y="321" width="1" height="17.00" fill="rgb(89,89,89)"/>
<rect x="318" y="321" width="1" height="17.00" fill="rgb(153,153,153)"/>
<rect x="319" y="321" width="1" height="17.00" fill="rgb(178,178,178)"/>
<rect x="320" y="321" width="1" height="17.00" fill="rgb(153,153,153)"/>
<rect x="321" y="321" width="1" height="17.00" fill="rgb(166,166,166)"/>
<rect x="322" y="321" width="1" height="17.00" fill="rgb(230,230,230)"/>
<rect x="324" y="321" width="1" height="17.00" fill="rgb(204,204,204)"/>
<rect x="325" y="321" width="1" height="17.00" fill="rgb(128,128,128)"/>
<rect x="326" y="321" width="1" height="17.00" fill="rgb(89,89,89)"/>
<rect x="327" y="321" width="1" height="17.00" fill="rgb(140,140,140)"/>
<rect x="328" y="321" width="1" height="17.00" fill="rgb(166,166,166)"/>
<rect x="329" y="321" width="1" height="17.00" fill="rgb(140,140,140)"/>
<rect x="330" y="321" width="1" height="17.00" fill="rgb(102,102,102)"/>
<rect x="331" y="321" width="2" height="17.00" fill="rgb(140,140,140)"/>
<rect x="333" y="321" width="1" height="17.00" fill="rgb(115,115,115)"/>
<rect x="334" y="321" width="1" height="17.00" fill="rgb(64,64,64)"/>
<rect x="335" y="321" width="1" height="17.00" fill="rgb(140,140,140)"/>
<rect x="336" y="321" width="1" height="17.00" fill="rgb(230,230,230)"/>
<rect x="337" y="321" width="1" height="17.00" fill="rgb(178,178,178)"/>
<rect x="338" y="321" width="1" height="17.00" fill="rgb(153,153,153)"/>
<rect x="339" y="321" width="1" height="17.00" fill="rgb(204,204,204)"/>
<rect x="340" y="321" width="1" height="17.00" fill="rgb(230,230,230)"/>
<rect x="341" y="321" width="1" height="17.00" fill="rgb(217,217,217)"/>
<rect x="342" y="321" width="1" height="17.00" fill="rgb(166,166,166)"/>
<rect x="343" y="321" width="1" height="17.00" fill="rgb(128,128,128)"/>
<rect x="344" y="321" width="1" height="17.00" fill="rgb(38,38,38)"/>
<rect x="345" y="321" width="1" height="17.00" fill="rgb(166,166,166)"/>
<rect x="346" y="321" width="1" height="17.00" fill="rgb(178,178,178)"/>
<rect x="347" y="321" width="1" height="17.00" fill="rgb(166,166,166)"/>
<rect x="348" y="321" width="1" height="17.00" fill="rgb(153,153,153)"/>
<rect x="349" y="321" width="1" height="17.00" fill="rgb(102,102,102)"/>
<rect x="350" y="321" width="1" height="17.00" fill="rgb(89,89,89)"/>
<rect x="351" y="321" width="1" height="17.00" fill="rgb(102,102,102)"/>
<rect x="352" y="321" width="1" height="17.00" fill="rgb(115,115,115)"/>
<rect x="353" y="321" width="1" height="17.00" fill="rgb(102,102,102)"/>
<rect x="354" y="321" width="1" height="17.00" fill="rgb(128,128,128)"/>
<rect x="355" y="321" width="1" height="17.00" fill="rgb(140,140,140)"/>
<rect x="356" y="321" width="4" height="17.00" fill="rgb(102,102,102)"/>
<rect x="360" y="321" width="1" height="17.00" fill="rgb(89,89,89)"/>
<rect x="361" y="321" width="1" height="17.00" fill="rgb(102,102,102)"/>
<rect x="362" y="321" width="1" height="17.00" fill="rgb(89,89,89)"/>
<rect x="363" y="321" width="1" height="17.00" fill="rgb(25,25,25)"/>
<rect x="364" y="321" width="1" height="17.00" fill="rgb(77,77,77)"/>
<rect x="365" y="321" width="1" height="17.00" fill="rgb(89,89,89)"/>
<rect x="366" y="321" width="1" height="17.00" fill="rgb(102,102,102)"/>
<rect x="367" y="321" width="1" height="17.00" fill="rgb(230,230,230)"/>
<rect x="254.6" y="338" width="113.4" height="4.600000000000023" fill="url(#gbar)"/>
<polyline points="252.5,276 253,274.6 254.9,271.2 256.8,270.7 259,270.2 261.6,269.8 263,270.4 264.5,270.5 266,270.1 267.4,270 269,270.6 271.2,271.7 280.8,277.5 290.5,284.2 300,291.6 313.5,300.9 326.9,310.3 333.6,313.7 340.4,316.4 343.1,317.5 345.8,316.1 348,316.3 350.5,316.6 353.8,312.3 357.9,309 361.2,302.9 363.3,296.2 364.6,288.1 365.7,277.3" fill="none" stroke="#cfeec6" stroke-width="2.3" stroke-linejoin="round" stroke-linecap="round"/>
<polyline points="252.5,276 253,274.6 254.9,271.2 256.8,270.7 259,270.2 261.6,269.8 263,270.4 264.5,270.5 266,270.1 267.4,270 269,270.6 271.2,271.7 280.8,277.5 290.5,284.2 300,291.6 313.5,300.9 326.9,310.3 333.6,313.7 340.4,316.4 343.1,317.5 345.8,316.1 348,316.3 350.5,316.6 353.8,312.3 357.9,309 361.2,302.9 363.3,296.2 364.6,288.1 365.7,277.3" fill="none" stroke="#52a148" stroke-width="1.15" stroke-linejoin="round" stroke-linecap="round"/>
<line x1="415.5" x2="415.5" y1="268.6" y2="319.2" stroke="#f5f5f5" stroke-width="0.7"/>
<line x1="439.5" x2="439.5" y1="268.6" y2="319.2" stroke="#f5f5f5" stroke-width="0.7"/>
<line x1="463.5" x2="463.5" y1="268.6" y2="319.2" stroke="#f5f5f5" stroke-width="0.7"/>
<line x1="487.5" x2="487.5" y1="268.6" y2="319.2" stroke="#f5f5f5" stroke-width="0.7"/>
<line x1="391.5" x2="511.5" y1="271.50" y2="271.50" stroke="#f5f5f5" stroke-width="0.6"/>
<line x1="391.5" x2="511.5" y1="278.25" y2="278.25" stroke="#f5f5f5" stroke-width="0.6"/>
<line x1="391.5" x2="511.5" y1="285.00" y2="285.00" stroke="#f5f5f5" stroke-width="0.6"/>
<line x1="391.5" x2="511.5" y1="291.75" y2="291.75" stroke="#f5f5f5" stroke-width="0.6"/>
<line x1="391.5" x2="511.5" y1="298.50" y2="298.50" stroke="#f5f5f5" stroke-width="0.6"/>
<line x1="391.5" x2="511.5" y1="305.25" y2="305.25" stroke="#f5f5f5" stroke-width="0.6"/>
<line x1="391.5" x2="511.5" y1="312.00" y2="312.00" stroke="#f5f5f5" stroke-width="0.6"/>
<line x1="391.5" x2="511.5" y1="318.75" y2="318.75" stroke="#f5f5f5" stroke-width="0.6"/>
<rect x="391.5" y="268.6" width="120.0" height="50.599999999999966" fill="none" stroke="#e0e0e0" stroke-width="0.7"/>
<text x="390.6" y="273.05" font-size="4.4" text-anchor="end" font-weight="normal" fill="#555" color="#555">0.0</text>
<text x="390.6" y="279.80" font-size="4.4" text-anchor="end" font-weight="normal" fill="#555" color="#555">-0.1</text>
<text x="390.6" y="286.55" font-size="4.4" text-anchor="end" font-weight="normal" fill="#555" color="#555">-0.2</text>
<text x="390.6" y="293.30" font-size="4.4" text-anchor="end" font-weight="normal" fill="#555" color="#555">-0.3</text>
<text x="390.6" y="300.05" font-size="4.4" text-anchor="end" font-weight="normal" fill="#555" color="#555">-0.4</text>
<text x="390.6" y="306.80" font-size="4.4" text-anchor="end" font-weight="normal" fill="#555" color="#555">-0.5</text>
<text x="390.6" y="313.55" font-size="4.4" text-anchor="end" font-weight="normal" fill="#555" color="#555">-0.6</text>
<text x="390.6" y="320.30" font-size="4.4" text-anchor="end" font-weight="normal" fill="#555" color="#555">-0.7</text>
<text transform="translate(381.2,294.8) rotate(-90)" x="0" y="0" font-size="6.3" text-anchor="middle" fill="#333" color="#333" textLength="44.5" lengthAdjust="spacingAndGlyphs">Enrichment score</text>
<text class="s" x="450.6" y="263" font-size="7.4" text-anchor="middle" font-weight="normal" fill="#2a2a2a" color="#2a2a2a" textLength="55.2" lengthAdjust="spacingAndGlyphs">G2M checkpoint</text>
<rect x="391.5" y="321.3" width="120.0" height="21.899999999999977" fill="none" stroke="#e0e0e0" stroke-width="0.7"/>
<rect x="390" y="321.3" width="1" height="16.90" fill="rgb(178,178,178)"/>
<rect x="391" y="321.3" width="1" height="16.90" fill="rgb(128,128,128)"/>
<rect x="392" y="321.3" width="1" height="16.90" fill="rgb(217,217,217)"/>
<rect x="393" y="321.3" width="1" height="16.90" fill="rgb(230,230,230)"/>
<rect x="394" y="321.3" width="1" height="16.90" fill="rgb(166,166,166)"/>
<rect x="395" y="321.3" width="1" height="16.90" fill="rgb(217,217,217)"/>
<rect x="399" y="321.3" width="1" height="16.90" fill="rgb(204,204,204)"/>
<rect x="400" y="321.3" width="1" height="16.90" fill="rgb(115,115,115)"/>
<rect x="401" y="321.3" width="1" height="16.90" fill="rgb(217,217,217)"/>
<rect x="403" y="321.3" width="1" height="16.90" fill="rgb(204,204,204)"/>
<rect x="404" y="321.3" width="1" height="16.90" fill="rgb(102,102,102)"/>
<rect x="405" y="321.3" width="1" height="16.90" fill="rgb(140,140,140)"/>
<rect x="406" y="321.3" width="1" height="16.90" fill="rgb(128,128,128)"/>
<rect x="407" y="321.3" width="1" height="16.90" fill="rgb(204,204,204)"/>
<rect x="408" y="321.3" width="1" height="16.90" fill="rgb(230,230,230)"/>
<rect x="409" y="321.3" width="1" height="16.90" fill="rgb(178,178,178)"/>
<rect x="410" y="321.3" width="1" height="16.90" fill="rgb(166,166,166)"/>
<rect x="411" y="321.3" width="1" height="16.90" fill="rgb(204,204,204)"/>
<rect x="412" y="321.3" width="1" height="16.90" fill="rgb(153,153,153)"/>
<rect x="413" y="321.3" width="1" height="16.90" fill="rgb(140,140,140)"/>
<rect x="414" y="321.3" width="1" height="16.90" fill="rgb(217,217,217)"/>
<rect x="415" y="321.3" width="1" height="16.90" fill="rgb(178,178,178)"/>
<rect x="424" y="321.3" width="1" height="16.90" fill="rgb(153,153,153)"/>
<rect x="425" y="321.3" width="1" height="16.90" fill="rgb(128,128,128)"/>
<rect x="426" y="321.3" width="1" height="16.90" fill="rgb(191,191,191)"/>
<rect x="427" y="321.3" width="1" height="16.90" fill="rgb(217,217,217)"/>
<rect x="450" y="321.3" width="1" height="16.90" fill="rgb(235,235,235)"/>
<rect x="454" y="321.3" width="1" height="16.90" fill="rgb(128,128,128)"/>
<rect x="455" y="321.3" width="1" height="16.90" fill="rgb(115,115,115)"/>
<rect x="456" y="321.3" width="1" height="16.90" fill="rgb(204,204,204)"/>
<rect x="462" y="321.3" width="1" height="16.90" fill="rgb(237,237,237)"/>
<rect x="463" y="321.3" width="1" height="16.90" fill="rgb(230,230,230)"/>
<rect x="464" y="321.3" width="1" height="16.90" fill="rgb(166,166,166)"/>
<rect x="465" y="321.3" width="1" height="16.90" fill="rgb(178,178,178)"/>
<rect x="466" y="321.3" width="1" height="16.90" fill="rgb(230,230,230)"/>
<rect x="467" y="321.3" width="1" height="16.90" fill="rgb(204,204,204)"/>
<rect x="468" y="321.3" width="1" height="16.90" fill="rgb(128,128,128)"/>
<rect x="469" y="321.3" width="1" height="16.90" fill="rgb(140,140,140)"/>
<rect x="470" y="321.3" width="1" height="16.90" fill="rgb(204,204,204)"/>
<rect x="472" y="321.3" width="1" height="16.90" fill="rgb(230,230,230)"/>
<rect x="473" y="321.3" width="1" height="16.90" fill="rgb(191,191,191)"/>
<rect x="474" y="321.3" width="1" height="16.90" fill="rgb(166,166,166)"/>
<rect x="475" y="321.3" width="1" height="16.90" fill="rgb(115,115,115)"/>
<rect x="476" y="321.3" width="1" height="16.90" fill="rgb(128,128,128)"/>
<rect x="477" y="321.3" width="1" height="16.90" fill="rgb(166,166,166)"/>
<rect x="478" y="321.3" width="1" height="16.90" fill="rgb(140,140,140)"/>
<rect x="479" y="321.3" width="1" height="16.90" fill="rgb(102,102,102)"/>
<rect x="480" y="321.3" width="1" height="16.90" fill="rgb(115,115,115)"/>
<rect x="481" y="321.3" width="1" height="16.90" fill="rgb(140,140,140)"/>
<rect x="482" y="321.3" width="1" height="16.90" fill="rgb(178,178,178)"/>
<rect x="483" y="321.3" width="1" height="16.90" fill="rgb(140,140,140)"/>
<rect x="484" y="321.3" width="1" height="16.90" fill="rgb(153,153,153)"/>
<rect x="485" y="321.3" width="1" height="16.90" fill="rgb(128,128,128)"/>
<rect x="486" y="321.3" width="1" height="16.90" fill="rgb(64,64,64)"/>
<rect x="487" y="321.3" width="2" height="16.90" fill="rgb(115,115,115)"/>
<rect x="489" y="321.3" width="1" height="16.90" fill="rgb(102,102,102)"/>
<rect x="490" y="321.3" width="1" height="16.90" fill="rgb(77,77,77)"/>
<rect x="491" y="321.3" width="1" height="16.90" fill="rgb(89,89,89)"/>
<rect x="492" y="321.3" width="1" height="16.90" fill="rgb(102,102,102)"/>
<rect x="493" y="321.3" width="2" height="16.90" fill="rgb(77,77,77)"/>
<rect x="495" y="321.3" width="1" height="16.90" fill="rgb(166,166,166)"/>
<rect x="496" y="321.3" width="5" height="16.90" fill="rgb(25,25,25)"/>
<rect x="501" y="321.3" width="3" height="16.90" fill="rgb(13,13,13)"/>
<rect x="504" y="321.3" width="1" height="16.90" fill="rgb(38,38,38)"/>
<rect x="505" y="321.3" width="1" height="16.90" fill="rgb(178,178,178)"/>
<rect x="391.8" y="338.2" width="113.69999999999999" height="4.400000000000034" fill="url(#gbar)"/>
<polyline points="391.3,269.5 400,273 406.7,275.7 413.4,279.7 420.1,284.1 430,289.4 440,295.4 450,300.5 460,306.5 470.1,311.5 476.8,314.6 483,316.8 488,317.25 491.75,316.6 494.9,314.75 497.4,311.6 499.25,307.9 501.1,302.25 502.4,294.75 503.6,284.75 504.5,276 505.25,271.4" fill="none" stroke="#cfeec6" stroke-width="2.3" stroke-linejoin="round" stroke-linecap="round"/>
<polyline points="391.3,269.5 400,273 406.7,275.7 413.4,279.7 420.1,284.1 430,289.4 440,295.4 450,300.5 460,306.5 470.1,311.5 476.8,314.6 483,316.8 488,317.25 491.75,316.6 494.9,314.75 497.4,311.6 499.25,307.9 501.1,302.25 502.4,294.75 503.6,284.75 504.5,276 505.25,271.4" fill="none" stroke="#52a148" stroke-width="1.15" stroke-linejoin="round" stroke-linecap="round"/>
<line x1="278" x2="278" y1="362.7" y2="414" stroke="#f5f5f5" stroke-width="0.7"/>
<line x1="302" x2="302" y1="362.7" y2="414" stroke="#f5f5f5" stroke-width="0.7"/>
<line x1="326" x2="326" y1="362.7" y2="414" stroke="#f5f5f5" stroke-width="0.7"/>
<line x1="350" x2="350" y1="362.7" y2="414" stroke="#f5f5f5" stroke-width="0.7"/>
<line x1="254" x2="373" y1="366.40" y2="366.40" stroke="#f5f5f5" stroke-width="0.6"/>
<line x1="254" x2="373" y1="374.60" y2="374.60" stroke="#f5f5f5" stroke-width="0.6"/>
<line x1="254" x2="373" y1="382.80" y2="382.80" stroke="#f5f5f5" stroke-width="0.6"/>
<line x1="254" x2="373" y1="391.00" y2="391.00" stroke="#f5f5f5" stroke-width="0.6"/>
<line x1="254" x2="373" y1="399.20" y2="399.20" stroke="#f5f5f5" stroke-width="0.6"/>
<line x1="254" x2="373" y1="407.40" y2="407.40" stroke="#f5f5f5" stroke-width="0.6"/>
<line x1="254" x2="373" y1="415.60" y2="415.60" stroke="#f5f5f5" stroke-width="0.6"/>
<rect x="254" y="362.7" width="119" height="51.30000000000001" fill="none" stroke="#e0e0e0" stroke-width="0.7"/>
<text x="250.4" y="367.95" font-size="4.4" text-anchor="end" font-weight="normal" fill="#555" color="#555">0.0</text>
<text x="250.4" y="376.15" font-size="4.4" text-anchor="end" font-weight="normal" fill="#555" color="#555">-0.1</text>
<text x="250.4" y="384.35" font-size="4.4" text-anchor="end" font-weight="normal" fill="#555" color="#555">-0.2</text>
<text x="250.4" y="392.55" font-size="4.4" text-anchor="end" font-weight="normal" fill="#555" color="#555">-0.3</text>
<text x="250.4" y="400.75" font-size="4.4" text-anchor="end" font-weight="normal" fill="#555" color="#555">-0.4</text>
<text x="250.4" y="408.95" font-size="4.4" text-anchor="end" font-weight="normal" fill="#555" color="#555">-0.5</text>
<text x="250.4" y="417.15" font-size="4.4" text-anchor="end" font-weight="normal" fill="#555" color="#555">-0.6</text>
<text transform="translate(239.6,389) rotate(-90)" x="0" y="0" font-size="6.3" text-anchor="middle" fill="#333" color="#333" textLength="44.5" lengthAdjust="spacingAndGlyphs">Enrichment score</text>
<text class="s" x="315.4" y="357.6" font-size="7.4" text-anchor="middle" font-weight="normal" fill="#2a2a2a" color="#2a2a2a" textLength="49.2" lengthAdjust="spacingAndGlyphs">Mitotic spindle</text>
<rect x="254" y="416.5" width="119" height="22.30000000000001" fill="none" stroke="#e0e0e0" stroke-width="0.7"/>
<rect x="255" y="416.5" width="1" height="17.30" fill="rgb(178,178,178)"/>
<rect x="256" y="416.5" width="1" height="17.30" fill="rgb(102,102,102)"/>
<rect x="257" y="416.5" width="1" height="17.30" fill="rgb(115,115,115)"/>
<rect x="258" y="416.5" width="1" height="17.30" fill="rgb(140,140,140)"/>
<rect x="259" y="416.5" width="1" height="17.30" fill="rgb(128,128,128)"/>
<rect x="260" y="416.5" width="1" height="17.30" fill="rgb(191,191,191)"/>
<rect x="262" y="416.5" width="1" height="17.30" fill="rgb(230,230,230)"/>
<rect x="263" y="416.5" width="1" height="17.30" fill="rgb(140,140,140)"/>
<rect x="264" y="416.5" width="1" height="17.30" fill="rgb(204,204,204)"/>
<rect x="265" y="416.5" width="1" height="17.30" fill="rgb(230,230,230)"/>
<rect x="266" y="416.5" width="1" height="17.30" fill="rgb(153,153,153)"/>
<rect x="267" y="416.5" width="1" height="17.30" fill="rgb(64,64,64)"/>
<rect x="268" y="416.5" width="1" height="17.30" fill="rgb(115,115,115)"/>
<rect x="269" y="416.5" width="1" height="17.30" fill="rgb(178,178,178)"/>
<rect x="270" y="416.5" width="1" height="17.30" fill="rgb(115,115,115)"/>
<rect x="271" y="416.5" width="1" height="17.30" fill="rgb(25,25,25)"/>
<rect x="272" y="416.5" width="1" height="17.30" fill="rgb(140,140,140)"/>
<rect x="275" y="416.5" width="1" height="17.30" fill="rgb(217,217,217)"/>
<rect x="276" y="416.5" width="1" height="17.30" fill="rgb(204,204,204)"/>
<rect x="277" y="416.5" width="2" height="17.30" fill="rgb(217,217,217)"/>
<rect x="279" y="416.5" width="1" height="17.30" fill="rgb(230,230,230)"/>
<rect x="281" y="416.5" width="1" height="17.30" fill="rgb(178,178,178)"/>
<rect x="282" y="416.5" width="1" height="17.30" fill="rgb(140,140,140)"/>
<rect x="283" y="416.5" width="1" height="17.30" fill="rgb(204,204,204)"/>
<rect x="289" y="416.5" width="1" height="17.30" fill="rgb(204,204,204)"/>
<rect x="290" y="416.5" width="1" height="17.30" fill="rgb(115,115,115)"/>
<rect x="291" y="416.5" width="1" height="17.30" fill="rgb(140,140,140)"/>
<rect x="294" y="416.5" width="1" height="17.30" fill="rgb(204,204,204)"/>
<rect x="295" y="416.5" width="1" height="17.30" fill="rgb(178,178,178)"/>
<rect x="303" y="416.5" width="1" height="17.30" fill="rgb(128,128,128)"/>
<rect x="304" y="416.5" width="1" height="17.30" fill="rgb(178,178,178)"/>
<rect x="313" y="416.5" width="1" height="17.30" fill="rgb(178,178,178)"/>
<rect x="314" y="416.5" width="1" height="17.30" fill="rgb(166,166,166)"/>
<rect x="315" y="416.5" width="1" height="17.30" fill="rgb(230,230,230)"/>
<rect x="318" y="416.5" width="1" height="17.30" fill="rgb(204,204,204)"/>
<rect x="319" y="416.5" width="1" height="17.30" fill="rgb(178,178,178)"/>
<rect x="320" y="416.5" width="1" height="17.30" fill="rgb(115,115,115)"/>
<rect x="321" y="416.5" width="1" height="17.30" fill="rgb(204,204,204)"/>
<rect x="322" y="416.5" width="1" height="17.30" fill="rgb(230,230,230)"/>
<rect x="323" y="416.5" width="1" height="17.30" fill="rgb(178,178,178)"/>
<rect x="324" y="416.5" width="1" height="17.30" fill="rgb(204,204,204)"/>
<rect x="325" y="416.5" width="1" height="17.30" fill="rgb(140,140,140)"/>
<rect x="326" y="416.5" width="1" height="17.30" fill="rgb(102,102,102)"/>
<rect x="327" y="416.5" width="1" height="17.30" fill="rgb(166,166,166)"/>
<rect x="328" y="416.5" width="1" height="17.30" fill="rgb(140,140,140)"/>
<rect x="329" y="416.5" width="1" height="17.30" fill="rgb(153,153,153)"/>
<rect x="330" y="416.5" width="2" height="17.30" fill="rgb(140,140,140)"/>
<rect x="332" y="416.5" width="1" height="17.30" fill="rgb(230,230,230)"/>
<rect x="333" y="416.5" width="1" height="17.30" fill="rgb(140,140,140)"/>
<rect x="334" y="416.5" width="1" height="17.30" fill="rgb(128,128,128)"/>
<rect x="335" y="416.5" width="1" height="17.30" fill="rgb(153,153,153)"/>
<rect x="336" y="416.5" width="1" height="17.30" fill="rgb(166,166,166)"/>
<rect x="337" y="416.5" width="1" height="17.30" fill="rgb(115,115,115)"/>
<rect x="338" y="416.5" width="1" height="17.30" fill="rgb(38,38,38)"/>
<rect x="339" y="416.5" width="1" height="17.30" fill="rgb(128,128,128)"/>
<rect x="340" y="416.5" width="1" height="17.30" fill="rgb(166,166,166)"/>
<rect x="341" y="416.5" width="1" height="17.30" fill="rgb(153,153,153)"/>
<rect x="342" y="416.5" width="1" height="17.30" fill="rgb(102,102,102)"/>
<rect x="343" y="416.5" width="1" height="17.30" fill="rgb(115,115,115)"/>
<rect x="344" y="416.5" width="1" height="17.30" fill="rgb(153,153,153)"/>
<rect x="345" y="416.5" width="1" height="17.30" fill="rgb(51,51,51)"/>
<rect x="346" y="416.5" width="1" height="17.30" fill="rgb(128,128,128)"/>
<rect x="347" y="416.5" width="1" height="17.30" fill="rgb(140,140,140)"/>
<rect x="348" y="416.5" width="1" height="17.30" fill="rgb(102,102,102)"/>
<rect x="349" y="416.5" width="1" height="17.30" fill="rgb(77,77,77)"/>
<rect x="350" y="416.5" width="1" height="17.30" fill="rgb(89,89,89)"/>
<rect x="351" y="416.5" width="1" height="17.30" fill="rgb(115,115,115)"/>
<rect x="352" y="416.5" width="1" height="17.30" fill="rgb(128,128,128)"/>
<rect x="353" y="416.5" width="1" height="17.30" fill="rgb(64,64,64)"/>
<rect x="354" y="416.5" width="1" height="17.30" fill="rgb(115,115,115)"/>
<rect x="355" y="416.5" width="1" height="17.30" fill="rgb(166,166,166)"/>
<rect x="356" y="416.5" width="1" height="17.30" fill="rgb(178,178,178)"/>
<rect x="357" y="416.5" width="1" height="17.30" fill="rgb(51,51,51)"/>
<rect x="358" y="416.5" width="1" height="17.30" fill="rgb(64,64,64)"/>
<rect x="359" y="416.5" width="1" height="17.30" fill="rgb(89,89,89)"/>
<rect x="360" y="416.5" width="1" height="17.30" fill="rgb(77,77,77)"/>
<rect x="361" y="416.5" width="1" height="17.30" fill="rgb(89,89,89)"/>
<rect x="362" y="416.5" width="1" height="17.30" fill="rgb(64,64,64)"/>
<rect x="363" y="416.5" width="1" height="17.30" fill="rgb(38,38,38)"/>
<rect x="364" y="416.5" width="1" height="17.30" fill="rgb(64,64,64)"/>
<rect x="365" y="416.5" width="1" height="17.30" fill="rgb(51,51,51)"/>
<rect x="366" y="416.5" width="2" height="17.30" fill="rgb(13,13,13)"/>
<rect x="368" y="416.5" width="1" height="17.30" fill="rgb(77,77,77)"/>
<rect x="254.6" y="433.8" width="113.4" height="4.399999999999977" fill="url(#gbar)"/>
<polyline points="254.9,367 257.3,365.9 260.1,364.9 263.9,366.4 266.7,367.4 269.5,367 272.3,368.3 278.9,373 288.3,379.6 300,387.1 309.4,393.6 318.8,400.2 328.1,406.4 336.6,411.5 343.2,412.8 347.8,411.1 352.5,408.3 356.3,407.7 360,403 363.8,394.6 366.6,382.4 369,366.4" fill="none" stroke="#cfeec6" stroke-width="2.3" stroke-linejoin="round" stroke-linecap="round"/>
<polyline points="254.9,367 257.3,365.9 260.1,364.9 263.9,366.4 266.7,367.4 269.5,367 272.3,368.3 278.9,373 288.3,379.6 300,387.1 309.4,393.6 318.8,400.2 328.1,406.4 336.6,411.5 343.2,412.8 347.8,411.1 352.5,408.3 356.3,407.7 360,403 363.8,394.6 366.6,382.4 369,366.4" fill="none" stroke="#52a148" stroke-width="1.15" stroke-linejoin="round" stroke-linecap="round"/>
<line x1="415.5" x2="415.5" y1="362.1" y2="413.5" stroke="#f5f5f5" stroke-width="0.7"/>
<line x1="439.5" x2="439.5" y1="362.1" y2="413.5" stroke="#f5f5f5" stroke-width="0.7"/>
<line x1="463.5" x2="463.5" y1="362.1" y2="413.5" stroke="#f5f5f5" stroke-width="0.7"/>
<line x1="487.5" x2="487.5" y1="362.1" y2="413.5" stroke="#f5f5f5" stroke-width="0.7"/>
<line x1="391.5" x2="511.5" y1="365.90" y2="365.90" stroke="#f5f5f5" stroke-width="0.6"/>
<line x1="391.5" x2="511.5" y1="373.65" y2="373.65" stroke="#f5f5f5" stroke-width="0.6"/>
<line x1="391.5" x2="511.5" y1="381.40" y2="381.40" stroke="#f5f5f5" stroke-width="0.6"/>
<line x1="391.5" x2="511.5" y1="389.15" y2="389.15" stroke="#f5f5f5" stroke-width="0.6"/>
<line x1="391.5" x2="511.5" y1="396.90" y2="396.90" stroke="#f5f5f5" stroke-width="0.6"/>
<line x1="391.5" x2="511.5" y1="404.65" y2="404.65" stroke="#f5f5f5" stroke-width="0.6"/>
<line x1="391.5" x2="511.5" y1="412.40" y2="412.40" stroke="#f5f5f5" stroke-width="0.6"/>
<rect x="391.5" y="362.1" width="120.0" height="51.39999999999998" fill="none" stroke="#e0e0e0" stroke-width="0.7"/>
<text x="390.6" y="367.45" font-size="4.4" text-anchor="end" font-weight="normal" fill="#555" color="#555">0.0</text>
<text x="390.6" y="375.20" font-size="4.4" text-anchor="end" font-weight="normal" fill="#555" color="#555">-0.1</text>
<text x="390.6" y="382.95" font-size="4.4" text-anchor="end" font-weight="normal" fill="#555" color="#555">-0.2</text>
<text x="390.6" y="390.70" font-size="4.4" text-anchor="end" font-weight="normal" fill="#555" color="#555">-0.3</text>
<text x="390.6" y="398.45" font-size="4.4" text-anchor="end" font-weight="normal" fill="#555" color="#555">-0.4</text>
<text x="390.6" y="406.20" font-size="4.4" text-anchor="end" font-weight="normal" fill="#555" color="#555">-0.5</text>
<text x="390.6" y="413.95" font-size="4.4" text-anchor="end" font-weight="normal" fill="#555" color="#555">-0.6</text>
<text transform="translate(381.2,389) rotate(-90)" x="0" y="0" font-size="6.3" text-anchor="middle" fill="#333" color="#333" textLength="44.5" lengthAdjust="spacingAndGlyphs">Enrichment score</text>
<text class="s" x="450.75" y="357.3" font-size="7.4" text-anchor="middle" font-weight="normal" fill="#2a2a2a" color="#2a2a2a" textLength="37.5" lengthAdjust="spacingAndGlyphs">DNA repair</text>
<rect x="391.5" y="416.2" width="120.0" height="22.19999999999999" fill="none" stroke="#e0e0e0" stroke-width="0.7"/>
<rect x="391" y="416.2" width="1" height="17.80" fill="rgb(230,230,230)"/>
<rect x="393" y="416.2" width="1" height="17.80" fill="rgb(217,217,217)"/>
<rect x="394" y="416.2" width="1" height="17.80" fill="rgb(153,153,153)"/>
<rect x="395" y="416.2" width="1" height="17.80" fill="rgb(140,140,140)"/>
<rect x="396" y="416.2" width="1" height="17.80" fill="rgb(204,204,204)"/>
<rect x="400" y="416.2" width="1" height="17.80" fill="rgb(217,217,217)"/>
<rect x="401" y="416.2" width="1" height="17.80" fill="rgb(166,166,166)"/>
<rect x="402" y="416.2" width="1" height="17.80" fill="rgb(115,115,115)"/>
<rect x="403" y="416.2" width="1" height="17.80" fill="rgb(128,128,128)"/>
<rect x="404" y="416.2" width="1" height="17.80" fill="rgb(115,115,115)"/>
<rect x="405" y="416.2" width="1" height="17.80" fill="rgb(153,153,153)"/>
<rect x="406" y="416.2" width="1" height="17.80" fill="rgb(217,217,217)"/>
<rect x="407" y="416.2" width="2" height="17.80" fill="rgb(230,230,230)"/>
<rect x="410" y="416.2" width="1" height="17.80" fill="rgb(217,217,217)"/>
<rect x="411" y="416.2" width="1" height="17.80" fill="rgb(140,140,140)"/>
<rect x="412" y="416.2" width="1" height="17.80" fill="rgb(102,102,102)"/>
<rect x="413" y="416.2" width="1" height="17.80" fill="rgb(140,140,140)"/>
<rect x="414" y="416.2" width="1" height="17.80" fill="rgb(178,178,178)"/>
<rect x="415" y="416.2" width="1" height="17.80" fill="rgb(204,204,204)"/>
<rect x="416" y="416.2" width="1" height="17.80" fill="rgb(128,128,128)"/>
<rect x="417" y="416.2" width="1" height="17.80" fill="rgb(115,115,115)"/>
<rect x="418" y="416.2" width="1" height="17.80" fill="rgb(178,178,178)"/>
<rect x="425" y="416.2" width="1" height="17.80" fill="rgb(217,217,217)"/>
<rect x="426" y="416.2" width="1" height="17.80" fill="rgb(178,178,178)"/>
<rect x="427" y="416.2" width="1" height="17.80" fill="rgb(191,191,191)"/>
<rect x="446" y="416.2" width="1" height="17.80" fill="rgb(230,230,230)"/>
<rect x="447" y="416.2" width="1" height="17.80" fill="rgb(235,235,235)"/>
<rect x="454" y="416.2" width="1" height="17.80" fill="rgb(140,140,140)"/>
<rect x="455" y="416.2" width="1" height="17.80" fill="rgb(128,128,128)"/>
<rect x="456" y="416.2" width="1" height="17.80" fill="rgb(178,178,178)"/>
<rect x="461" y="416.2" width="1" height="17.80" fill="rgb(230,230,230)"/>
<rect x="462" y="416.2" width="1" height="17.80" fill="rgb(166,166,166)"/>
<rect x="463" y="416.2" width="1" height="17.80" fill="rgb(204,204,204)"/>
<rect x="465" y="416.2" width="1" height="17.80" fill="rgb(153,153,153)"/>
<rect x="466" y="416.2" width="1" height="17.80" fill="rgb(140,140,140)"/>
<rect x="467" y="416.2" width="1" height="17.80" fill="rgb(204,204,204)"/>
<rect x="468" y="416.2" width="1" height="17.80" fill="rgb(230,230,230)"/>
<rect x="469" y="416.2" width="1" height="17.80" fill="rgb(166,166,166)"/>
<rect x="470" y="416.2" width="1" height="17.80" fill="rgb(178,178,178)"/>
<rect x="471" y="416.2" width="1" height="17.80" fill="rgb(166,166,166)"/>
<rect x="472" y="416.2" width="1" height="17.80" fill="rgb(191,191,191)"/>
<rect x="475" y="416.2" width="1" height="17.80" fill="rgb(217,217,217)"/>
<rect x="476" y="416.2" width="3" height="17.80" fill="rgb(230,230,230)"/>
<rect x="479" y="416.2" width="1" height="17.80" fill="rgb(166,166,166)"/>
<rect x="480" y="416.2" width="1" height="17.80" fill="rgb(89,89,89)"/>
<rect x="481" y="416.2" width="2" height="17.80" fill="rgb(153,153,153)"/>
<rect x="483" y="416.2" width="1" height="17.80" fill="rgb(140,140,140)"/>
<rect x="484" y="416.2" width="1" height="17.80" fill="rgb(153,153,153)"/>
<rect x="485" y="416.2" width="1" height="17.80" fill="rgb(128,128,128)"/>
<rect x="486" y="416.2" width="1" height="17.80" fill="rgb(115,115,115)"/>
<rect x="487" y="416.2" width="1" height="17.80" fill="rgb(140,140,140)"/>
<rect x="488" y="416.2" width="1" height="17.80" fill="rgb(128,128,128)"/>
<rect x="489" y="416.2" width="1" height="17.80" fill="rgb(77,77,77)"/>
<rect x="490" y="416.2" width="1" height="17.80" fill="rgb(25,25,25)"/>
<rect x="491" y="416.2" width="1" height="17.80" fill="rgb(64,64,64)"/>
<rect x="492" y="416.2" width="1" height="17.80" fill="rgb(115,115,115)"/>
<rect x="493" y="416.2" width="1" height="17.80" fill="rgb(89,89,89)"/>
<rect x="494" y="416.2" width="2" height="17.80" fill="rgb(102,102,102)"/>
<rect x="496" y="416.2" width="1" height="17.80" fill="rgb(89,89,89)"/>
<rect x="497" y="416.2" width="1" height="17.80" fill="rgb(77,77,77)"/>
<rect x="498" y="416.2" width="2" height="17.80" fill="rgb(89,89,89)"/>
<rect x="500" y="416.2" width="1" height="17.80" fill="rgb(102,102,102)"/>
<rect x="501" y="416.2" width="1" height="17.80" fill="rgb(89,89,89)"/>
<rect x="502" y="416.2" width="1" height="17.80" fill="rgb(102,102,102)"/>
<rect x="503" y="416.2" width="1" height="17.80" fill="rgb(64,64,64)"/>
<rect x="504" y="416.2" width="1" height="17.80" fill="rgb(89,89,89)"/>
<rect x="505" y="416.2" width="1" height="17.80" fill="rgb(77,77,77)"/>
<rect x="506" y="416.2" width="1" height="17.80" fill="rgb(115,115,115)"/>
<rect x="507" y="416.2" width="1" height="17.80" fill="rgb(128,128,128)"/>
<rect x="508" y="416.2" width="1" height="17.80" fill="rgb(77,77,77)"/>
<rect x="509" y="416.2" width="1" height="17.80" fill="rgb(166,166,166)"/>
<rect x="391.8" y="434" width="113.69999999999999" height="3.8000000000000114" fill="url(#gbar)"/>
<polyline points="391.8,366.4 394.6,365.5 396.5,364.9 399.3,366.4 401.2,367.4 405,367 407.8,368.3 415.3,373 430.3,382.4 440,388.4 453.9,397.4 467.7,405.7 478.8,411.9 482.9,412.9 485,411.5 487.1,409.9 491.2,405.7 495.4,400.9 498.2,393.2 501.6,383.5 503.7,375.2 505.1,366.2" fill="none" stroke="#cfeec6" stroke-width="2.3" stroke-linejoin="round" stroke-linecap="round"/>
<polyline points="391.8,366.4 394.6,365.5 396.5,364.9 399.3,366.4 401.2,367.4 405,367 407.8,368.3 415.3,373 430.3,382.4 440,388.4 453.9,397.4 467.7,405.7 478.8,411.9 482.9,412.9 485,411.5 487.1,409.9 491.2,405.7 495.4,400.9 498.2,393.2 501.6,383.5 503.7,375.2 505.1,366.2" fill="none" stroke="#52a148" stroke-width="1.15" stroke-linejoin="round" stroke-linecap="round"/>
<rect x="0.5" y="0.5" width="519" height="447" fill="none" stroke="#585858" stroke-width="1"/>
</svg>
</body></html>
